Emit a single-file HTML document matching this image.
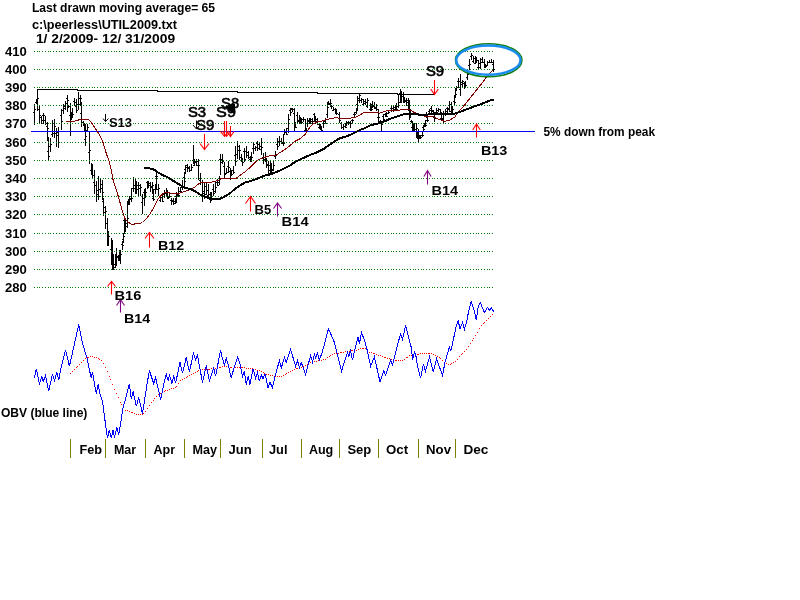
<!DOCTYPE html>
<html><head><meta charset="utf-8"><title>UTIL2009</title>
<style>html,body{margin:0;padding:0;background:#fff;width:800px;height:600px;overflow:hidden}svg{display:block}text{-webkit-font-smoothing:antialiased}svg{will-change:transform}</style>
</head><body>
<svg width="800" height="600" viewBox="0 0 800 600" font-family="Liberation Sans, Arial, sans-serif"><text x="31.9" y="12" font-size="12.5" font-weight="bold" fill="#000" textLength="183.2" lengthAdjust="spacingAndGlyphs">Last drawn moving average= 65</text>
<text x="31.9" y="29" font-size="12" font-weight="bold" fill="#000" textLength="145.2" lengthAdjust="spacingAndGlyphs">c:\peerless\UTIL2009.txt</text>
<text x="35.9" y="42.7" font-size="12" font-weight="bold" fill="#000" textLength="139.2" lengthAdjust="spacingAndGlyphs">1/ 2/2009- 12/ 31/2009</text>
<path d="M34 104h1v21h-1zM33 112h1v1h-1zM35 109h1v1h-1zM36 99h1v5h-1zM35 102h1v1h-1zM37 100h1v1h-1zM37 89h1v22h-1zM36 101h1v1h-1zM38 98h1v1h-1zM39 106h1v18h-1zM38 109h1v1h-1zM40 115h1v1h-1zM41 116h1v8h-1zM40 117h1v1h-1zM42 120h1v1h-1zM43 113h1v11h-1zM42 115h1v1h-1zM44 115h1v1h-1zM45 116h1v9h-1zM44 120h1v1h-1zM46 123h1v1h-1zM47 122h1v19h-1zM46 126h1v1h-1zM48 128h1v1h-1zM48 137h1v23h-1zM47 151h1v1h-1zM49 156h1v1h-1zM50 138h1v14h-1zM49 146h1v1h-1zM51 144h1v1h-1zM52 120h1v17h-1zM51 134h1v1h-1zM53 123h1v1h-1zM54 119h1v19h-1zM53 133h1v1h-1zM55 126h1v1h-1zM56 128h1v19h-1zM55 133h1v1h-1zM57 132h1v1h-1zM58 127h1v21h-1zM57 135h1v1h-1zM59 142h1v1h-1zM61 109h1v21h-1zM60 115h1v1h-1zM62 121h1v1h-1zM63 104h1v10h-1zM62 110h1v1h-1zM64 108h1v1h-1zM65 101h1v9h-1zM64 106h1v1h-1zM66 103h1v1h-1zM67 95h1v17h-1zM66 98h1v1h-1zM68 100h1v1h-1zM68 105h1v3h-1zM67 107h1v1h-1zM69 106h1v1h-1zM70 103h1v33h-1zM69 115h1v1h-1zM71 121h1v1h-1zM71 112h1v8h-1zM70 116h1v1h-1zM72 115h1v1h-1zM72 108h1v10h-1zM71 115h1v1h-1zM73 114h1v1h-1zM74 98h1v8h-1zM73 101h1v1h-1zM75 102h1v1h-1zM76 99h1v14h-1zM75 106h1v1h-1zM77 110h1v1h-1zM78 92h1v18h-1zM77 104h1v1h-1zM79 98h1v1h-1zM80 95h1v11h-1zM79 104h1v1h-1zM81 98h1v1h-1zM81 102h1v25h-1zM80 113h1v1h-1zM82 119h1v1h-1zM83 121h1v5h-1zM82 122h1v1h-1zM84 123h1v1h-1zM84 124h1v7h-1zM83 125h1v1h-1zM85 128h1v1h-1zM85 124h1v22h-1zM84 139h1v1h-1zM86 136h1v1h-1zM87 124h1v8h-1zM86 130h1v1h-1zM88 127h1v1h-1zM89 131h1v33h-1zM88 152h1v1h-1zM90 150h1v1h-1zM91 163h1v12h-1zM90 170h1v1h-1zM92 169h1v1h-1zM92 164h1v14h-1zM91 174h1v1h-1zM93 175h1v1h-1zM94 170h1v24h-1zM93 182h1v1h-1zM95 185h1v1h-1zM96 181h1v21h-1zM95 185h1v1h-1zM97 194h1v1h-1zM98 176h1v24h-1zM97 190h1v1h-1zM99 196h1v1h-1zM100 179h1v14h-1zM99 189h1v1h-1zM101 184h1v1h-1zM102 180h1v20h-1zM101 188h1v1h-1zM103 192h1v1h-1zM103 198h1v18h-1zM102 201h1v1h-1zM104 207h1v1h-1zM105 206h1v23h-1zM104 212h1v1h-1zM106 211h1v1h-1zM107 218h1v28h-1zM106 223h1v1h-1zM108 237h1v1h-1zM108 231h1v15h-1zM107 235h1v1h-1zM109 236h1v1h-1zM111 238h1v27h-1zM110 249h1v1h-1zM112 259h1v1h-1zM112 240h1v30h-1zM111 246h1v1h-1zM113 254h1v1h-1zM113 255h1v15h-1zM112 263h1v1h-1zM114 267h1v1h-1zM115 255h1v13h-1zM114 264h1v1h-1zM116 265h1v1h-1zM116 248h1v18h-1zM115 254h1v1h-1zM117 256h1v1h-1zM118 255h1v6h-1zM117 257h1v1h-1zM119 260h1v1h-1zM119 250h1v10h-1zM118 258h1v1h-1zM120 253h1v1h-1zM120 250h1v14h-1zM119 254h1v1h-1zM121 254h1v1h-1zM122 241h1v9h-1zM121 244h1v1h-1zM123 245h1v1h-1zM123 233h1v10h-1zM122 239h1v1h-1zM124 236h1v1h-1zM124 218h1v16h-1zM123 220h1v1h-1zM125 225h1v1h-1zM125 219h1v13h-1zM124 224h1v1h-1zM126 226h1v1h-1zM127 201h1v27h-1zM126 223h1v1h-1zM128 218h1v1h-1zM128 199h1v6h-1zM127 202h1v1h-1zM129 202h1v1h-1zM129 196h1v9h-1zM128 202h1v1h-1zM130 198h1v1h-1zM131 188h1v14h-1zM130 199h1v1h-1zM132 198h1v1h-1zM133 177h1v15h-1zM132 188h1v1h-1zM134 188h1v1h-1zM135 178h1v16h-1zM134 185h1v1h-1zM136 185h1v1h-1zM136 181h1v13h-1zM135 184h1v1h-1zM137 189h1v1h-1zM138 182h1v14h-1zM137 185h1v1h-1zM139 185h1v1h-1zM140 184h1v12h-1zM139 188h1v1h-1zM141 187h1v1h-1zM142 194h1v20h-1zM141 202h1v1h-1zM143 198h1v1h-1zM144 189h1v17h-1zM143 192h1v1h-1zM145 193h1v1h-1zM145 188h1v10h-1zM144 190h1v1h-1zM146 192h1v1h-1zM147 181h1v8h-1zM146 182h1v1h-1zM148 187h1v1h-1zM148 181h1v7h-1zM147 185h1v1h-1zM149 183h1v1h-1zM150 182h1v10h-1zM149 185h1v1h-1zM151 186h1v1h-1zM152 182h1v12h-1zM151 187h1v1h-1zM153 185h1v1h-1zM153 189h1v12h-1zM152 198h1v1h-1zM154 199h1v1h-1zM155 184h1v10h-1zM154 189h1v1h-1zM156 189h1v1h-1zM156 172h1v18h-1zM155 176h1v1h-1zM157 176h1v1h-1zM158 184h1v12h-1zM157 189h1v1h-1zM159 188h1v1h-1zM160 195h1v7h-1zM159 200h1v1h-1zM161 197h1v1h-1zM162 194h1v8h-1zM161 195h1v1h-1zM163 201h1v1h-1zM164 190h1v8h-1zM163 194h1v1h-1zM165 192h1v1h-1zM166 188h1v9h-1zM165 193h1v1h-1zM167 190h1v1h-1zM167 191h1v8h-1zM166 195h1v1h-1zM168 198h1v1h-1zM169 193h1v5h-1zM168 197h1v1h-1zM170 196h1v1h-1zM171 198h1v7h-1zM170 200h1v1h-1zM172 201h1v1h-1zM173 198h1v7h-1zM172 200h1v1h-1zM174 203h1v1h-1zM175 198h1v6h-1zM174 201h1v1h-1zM176 202h1v1h-1zM176 192h1v10h-1zM175 196h1v1h-1zM177 195h1v1h-1zM178 187h1v10h-1zM177 194h1v1h-1zM179 195h1v1h-1zM180 187h1v6h-1zM179 191h1v1h-1zM181 191h1v1h-1zM182 180h1v10h-1zM181 187h1v1h-1zM183 187h1v1h-1zM184 172h1v17h-1zM183 177h1v1h-1zM185 181h1v1h-1zM185 165h1v9h-1zM184 169h1v1h-1zM186 167h1v1h-1zM187 164h1v8h-1zM186 165h1v1h-1zM188 167h1v1h-1zM189 166h1v6h-1zM188 168h1v1h-1zM190 170h1v1h-1zM191 164h1v7h-1zM190 170h1v1h-1zM192 167h1v1h-1zM193 145h1v19h-1zM192 160h1v1h-1zM194 161h1v1h-1zM194 159h1v7h-1zM193 165h1v1h-1zM195 162h1v1h-1zM196 159h1v7h-1zM195 161h1v1h-1zM197 161h1v1h-1zM198 159h1v21h-1zM197 165h1v1h-1zM199 165h1v1h-1zM200 173h1v12h-1zM199 180h1v1h-1zM201 182h1v1h-1zM202 180h1v22h-1zM201 196h1v1h-1zM203 191h1v1h-1zM204 183h1v16h-1zM203 193h1v1h-1zM205 194h1v1h-1zM206 183h1v12h-1zM205 186h1v1h-1zM207 190h1v1h-1zM208 184h1v14h-1zM207 195h1v1h-1zM209 194h1v1h-1zM210 192h1v11h-1zM209 199h1v1h-1zM211 197h1v1h-1zM211 192h1v9h-1zM210 194h1v1h-1zM212 198h1v1h-1zM213 184h1v12h-1zM212 189h1v1h-1zM214 193h1v1h-1zM215 182h1v11h-1zM214 191h1v1h-1zM216 187h1v1h-1zM217 179h1v7h-1zM216 182h1v1h-1zM218 185h1v1h-1zM219 176h1v9h-1zM218 182h1v1h-1zM220 178h1v1h-1zM220 154h1v21h-1zM219 159h1v1h-1zM221 159h1v1h-1zM222 154h1v10h-1zM221 162h1v1h-1zM223 161h1v1h-1zM224 162h1v16h-1zM223 166h1v1h-1zM225 174h1v1h-1zM226 168h1v6h-1zM225 173h1v1h-1zM227 172h1v1h-1zM228 161h1v12h-1zM227 166h1v1h-1zM229 167h1v1h-1zM230 168h1v12h-1zM229 171h1v1h-1zM231 170h1v1h-1zM231 171h1v5h-1zM230 175h1v1h-1zM232 174h1v1h-1zM233 166h1v8h-1zM232 170h1v1h-1zM234 172h1v1h-1zM235 146h1v20h-1zM234 155h1v1h-1zM236 161h1v1h-1zM237 141h1v18h-1zM236 154h1v1h-1zM238 146h1v1h-1zM239 145h1v15h-1zM238 150h1v1h-1zM240 150h1v1h-1zM241 154h1v8h-1zM240 157h1v1h-1zM242 158h1v1h-1zM242 158h1v8h-1zM241 161h1v1h-1zM243 162h1v1h-1zM244 148h1v14h-1zM243 151h1v1h-1zM245 159h1v1h-1zM246 146h1v12h-1zM245 151h1v1h-1zM247 152h1v1h-1zM248 151h1v8h-1zM247 155h1v1h-1zM249 157h1v1h-1zM250 156h1v6h-1zM249 159h1v1h-1zM251 161h1v1h-1zM251 152h1v9h-1zM250 157h1v1h-1zM252 157h1v1h-1zM253 142h1v12h-1zM252 148h1v1h-1zM254 144h1v1h-1zM255 146h1v5h-1zM254 148h1v1h-1zM256 147h1v1h-1zM257 141h1v10h-1zM256 143h1v1h-1zM258 148h1v1h-1zM259 142h1v8h-1zM258 144h1v1h-1zM260 146h1v1h-1zM261 138h1v17h-1zM260 149h1v1h-1zM262 147h1v1h-1zM263 153h1v11h-1zM262 157h1v1h-1zM264 159h1v1h-1zM265 152h1v9h-1zM264 157h1v1h-1zM266 158h1v1h-1zM266 159h1v9h-1zM265 161h1v1h-1zM267 164h1v1h-1zM268 161h1v13h-1zM267 165h1v1h-1zM269 165h1v1h-1zM270 161h1v13h-1zM269 170h1v1h-1zM271 168h1v1h-1zM271 163h1v10h-1zM270 168h1v1h-1zM272 170h1v1h-1zM273 160h1v11h-1zM272 169h1v1h-1zM274 165h1v1h-1zM275 151h1v8h-1zM274 156h1v1h-1zM276 155h1v1h-1zM277 138h1v12h-1zM276 144h1v1h-1zM278 146h1v1h-1zM279 136h1v10h-1zM278 141h1v1h-1zM280 141h1v1h-1zM281 138h1v6h-1zM280 141h1v1h-1zM282 143h1v1h-1zM283 135h1v11h-1zM282 142h1v1h-1zM284 143h1v1h-1zM284 129h1v6h-1zM283 134h1v1h-1zM285 131h1v1h-1zM286 128h1v7h-1zM285 132h1v1h-1zM287 134h1v1h-1zM288 114h1v19h-1zM287 128h1v1h-1zM289 119h1v1h-1zM290 108h1v8h-1zM289 110h1v1h-1zM291 112h1v1h-1zM291 108h1v1h-1zM292 108h1v4h-1zM291 109h1v1h-1zM293 109h1v1h-1zM294 108h1v24h-1zM293 113h1v1h-1zM295 123h1v1h-1zM295 122h1v6h-1zM294 126h1v1h-1zM296 127h1v1h-1zM297 112h1v12h-1zM296 115h1v1h-1zM298 120h1v1h-1zM299 115h1v9h-1zM298 121h1v1h-1zM300 117h1v1h-1zM300 118h1v6h-1zM299 123h1v1h-1zM301 123h1v1h-1zM301 118h1v5h-1zM300 120h1v1h-1zM302 122h1v1h-1zM303 117h1v5h-1zM302 119h1v1h-1zM304 119h1v1h-1zM305 119h1v13h-1zM304 130h1v1h-1zM306 129h1v1h-1zM306 128h1v5h-1zM305 129h1v1h-1zM307 130h1v1h-1zM307 118h1v9h-1zM306 123h1v1h-1zM308 121h1v1h-1zM309 118h1v6h-1zM308 120h1v1h-1zM310 120h1v1h-1zM310 118h1v6h-1zM309 122h1v1h-1zM311 119h1v1h-1zM312 118h1v6h-1zM311 121h1v1h-1zM313 121h1v1h-1zM314 113h1v9h-1zM313 114h1v1h-1zM315 116h1v1h-1zM315 117h1v7h-1zM314 121h1v1h-1zM316 121h1v1h-1zM317 118h1v7h-1zM316 119h1v1h-1zM318 124h1v1h-1zM319 123h1v6h-1zM318 127h1v1h-1zM320 128h1v1h-1zM320 124h1v6h-1zM319 125h1v1h-1zM321 126h1v1h-1zM321 127h1v5h-1zM320 128h1v1h-1zM322 130h1v1h-1zM323 121h1v7h-1zM322 123h1v1h-1zM324 123h1v1h-1zM325 118h1v6h-1zM324 121h1v1h-1zM326 123h1v1h-1zM327 102h1v16h-1zM326 114h1v1h-1zM328 107h1v1h-1zM328 101h1v4h-1zM327 102h1v1h-1zM329 104h1v1h-1zM330 99h1v7h-1zM329 103h1v1h-1zM331 103h1v1h-1zM331 105h1v4h-1zM330 106h1v1h-1zM332 106h1v1h-1zM333 107h1v4h-1zM332 110h1v1h-1zM334 109h1v1h-1zM335 108h1v6h-1zM334 109h1v1h-1zM336 113h1v1h-1zM336 109h1v6h-1zM335 113h1v1h-1zM337 113h1v1h-1zM339 112h1v11h-1zM338 114h1v1h-1zM340 120h1v1h-1zM341 122h1v7h-1zM340 123h1v1h-1zM342 127h1v1h-1zM343 124h1v6h-1zM342 127h1v1h-1zM344 126h1v1h-1zM345 124h1v4h-1zM344 126h1v1h-1zM346 127h1v1h-1zM346 121h1v5h-1zM345 123h1v1h-1zM347 122h1v1h-1zM348 121h1v4h-1zM347 123h1v1h-1zM349 122h1v1h-1zM350 121h1v7h-1zM349 123h1v1h-1zM351 123h1v1h-1zM352 119h1v5h-1zM351 120h1v1h-1zM353 120h1v1h-1zM354 112h1v6h-1zM353 114h1v1h-1zM355 114h1v1h-1zM356 108h1v6h-1zM355 112h1v1h-1zM357 110h1v1h-1zM357 96h1v15h-1zM356 104h1v1h-1zM358 100h1v1h-1zM359 94h1v9h-1zM358 98h1v1h-1zM360 95h1v1h-1zM361 98h1v5h-1zM360 100h1v1h-1zM362 99h1v1h-1zM363 99h1v7h-1zM362 104h1v1h-1zM364 103h1v1h-1zM365 99h1v6h-1zM364 101h1v1h-1zM366 102h1v1h-1zM367 98h1v10h-1zM366 106h1v1h-1zM368 100h1v1h-1zM370 103h1v8h-1zM369 109h1v1h-1zM371 107h1v1h-1zM371 105h1v6h-1zM370 108h1v1h-1zM372 109h1v1h-1zM372 101h1v7h-1zM371 104h1v1h-1zM373 105h1v1h-1zM374 102h1v7h-1zM373 106h1v1h-1zM375 108h1v1h-1zM376 104h1v7h-1zM375 107h1v1h-1zM377 109h1v1h-1zM378 109h1v13h-1zM377 117h1v1h-1zM379 117h1v1h-1zM380 120h1v3h-1zM379 121h1v1h-1zM381 121h1v1h-1zM381 121h1v11h-1zM380 123h1v1h-1zM382 124h1v1h-1zM383 114h1v8h-1zM382 116h1v1h-1zM384 119h1v1h-1zM385 113h1v4h-1zM384 114h1v1h-1zM386 114h1v1h-1zM386 112h1v5h-1zM385 113h1v1h-1zM387 116h1v1h-1zM388 110h1v4h-1zM387 113h1v1h-1zM389 112h1v1h-1zM391 106h1v6h-1zM390 108h1v1h-1zM392 108h1v1h-1zM393 106h1v6h-1zM392 108h1v1h-1zM394 109h1v1h-1zM395 105h1v6h-1zM394 107h1v1h-1zM396 108h1v1h-1zM396 103h1v7h-1zM395 105h1v1h-1zM397 109h1v1h-1zM398 95h1v13h-1zM397 106h1v1h-1zM399 102h1v1h-1zM400 89h1v14h-1zM399 93h1v1h-1zM401 101h1v1h-1zM401 91h1v12h-1zM400 95h1v1h-1zM402 96h1v1h-1zM403 92h1v11h-1zM402 94h1v1h-1zM404 97h1v1h-1zM404 98h1v5h-1zM403 100h1v1h-1zM405 101h1v1h-1zM406 98h1v8h-1zM405 100h1v1h-1zM407 102h1v1h-1zM408 98h1v13h-1zM407 100h1v1h-1zM409 102h1v1h-1zM409 100h1v20h-1zM408 104h1v1h-1zM410 109h1v1h-1zM410 109h1v9h-1zM409 111h1v1h-1zM411 110h1v1h-1zM411 120h1v3h-1zM410 121h1v1h-1zM412 121h1v1h-1zM412 122h1v9h-1zM411 127h1v1h-1zM413 127h1v1h-1zM413 123h1v8h-1zM412 128h1v1h-1zM414 128h1v1h-1zM414 123h1v8h-1zM413 128h1v1h-1zM415 129h1v1h-1zM416 123h1v14h-1zM415 129h1v1h-1zM417 128h1v1h-1zM417 131h1v7h-1zM416 137h1v1h-1zM418 133h1v1h-1zM418 129h1v13h-1zM417 138h1v1h-1zM419 137h1v1h-1zM419 135h1v4h-1zM418 136h1v1h-1zM420 138h1v1h-1zM420 135h1v3h-1zM419 137h1v1h-1zM421 137h1v1h-1zM422 131h1v6h-1zM421 135h1v1h-1zM423 135h1v1h-1zM423 125h1v7h-1zM422 127h1v1h-1zM424 129h1v1h-1zM424 123h1v4h-1zM423 125h1v1h-1zM425 126h1v1h-1zM425 120h1v7h-1zM424 125h1v1h-1zM426 125h1v1h-1zM426 112h1v6h-1zM425 115h1v1h-1zM427 117h1v1h-1zM427 116h1v6h-1zM426 120h1v1h-1zM428 120h1v1h-1zM429 109h1v6h-1zM428 111h1v1h-1zM430 110h1v1h-1zM431 106h1v9h-1zM430 108h1v1h-1zM432 110h1v1h-1zM433 110h1v5h-1zM432 111h1v1h-1zM434 114h1v1h-1zM434 112h1v10h-1zM433 117h1v1h-1zM435 118h1v1h-1zM436 108h1v7h-1zM435 112h1v1h-1zM437 112h1v1h-1zM438 108h1v4h-1zM437 110h1v1h-1zM439 109h1v1h-1zM440 109h1v5h-1zM439 113h1v1h-1zM441 112h1v1h-1zM441 115h1v5h-1zM440 118h1v1h-1zM442 118h1v1h-1zM443 111h1v13h-1zM442 119h1v1h-1zM444 114h1v1h-1zM445 109h1v7h-1zM444 114h1v1h-1zM446 111h1v1h-1zM447 107h1v7h-1zM446 108h1v1h-1zM448 109h1v1h-1zM449 101h1v11h-1zM448 108h1v1h-1zM450 104h1v1h-1zM451 102h1v13h-1zM450 111h1v1h-1zM452 113h1v1h-1zM452 106h1v8h-1zM451 110h1v1h-1zM453 109h1v1h-1zM454 96h1v10h-1zM453 101h1v1h-1zM455 102h1v1h-1zM455 88h1v10h-1zM454 95h1v1h-1zM456 94h1v1h-1zM456 86h1v5h-1zM455 89h1v1h-1zM457 87h1v1h-1zM458 78h1v10h-1zM457 81h1v1h-1zM459 81h1v1h-1zM460 74h1v22h-1zM459 89h1v1h-1zM461 82h1v1h-1zM462 80h1v7h-1zM461 84h1v1h-1zM463 81h1v1h-1zM464 82h1v7h-1zM463 83h1v1h-1zM465 84h1v1h-1zM465 81h1v6h-1zM464 85h1v1h-1zM466 85h1v1h-1zM467 71h1v9h-1zM466 77h1v1h-1zM468 74h1v1h-1zM469 59h1v11h-1zM468 65h1v1h-1zM470 64h1v1h-1zM471 53h1v7h-1zM470 56h1v1h-1zM472 55h1v1h-1zM473 56h1v7h-1zM472 61h1v1h-1zM474 58h1v1h-1zM475 56h1v8h-1zM474 63h1v1h-1zM476 62h1v1h-1zM476 57h1v6h-1zM475 58h1v1h-1zM477 60h1v1h-1zM478 60h1v9h-1zM477 67h1v1h-1zM479 67h1v1h-1zM480 58h1v11h-1zM479 63h1v1h-1zM481 62h1v1h-1zM482 57h1v6h-1zM481 59h1v1h-1zM483 62h1v1h-1zM484 59h1v9h-1zM483 62h1v1h-1zM485 64h1v1h-1zM485 64h1v4h-1zM484 65h1v1h-1zM486 66h1v1h-1zM487 61h1v5h-1zM486 65h1v1h-1zM488 62h1v1h-1zM489 60h1v3h-1zM488 62h1v1h-1zM490 62h1v1h-1zM491 59h1v4h-1zM490 62h1v1h-1zM492 62h1v1h-1zM493 60h1v12h-1zM492 64h1v1h-1zM494 69h1v1h-1z" fill="#000"/>
<path d="M34 51h1v1h-1zM37 51h1v1h-1zM39 51h1v1h-1zM42 51h1v1h-1zM45 51h1v1h-1zM48 51h1v1h-1zM50 51h1v1h-1zM53 51h1v1h-1zM56 51h1v1h-1zM59 51h1v1h-1zM61 51h1v1h-1zM64 51h1v1h-1zM67 51h1v1h-1zM70 51h1v1h-1zM72 51h1v1h-1zM75 51h1v1h-1zM78 51h1v1h-1zM81 51h1v1h-1zM83 51h1v1h-1zM86 51h1v1h-1zM89 51h1v1h-1zM92 51h1v1h-1zM94 51h1v1h-1zM97 51h1v1h-1zM100 51h1v1h-1zM103 51h1v1h-1zM105 51h1v1h-1zM108 51h1v1h-1zM111 51h1v1h-1zM114 51h1v1h-1zM116 51h1v1h-1zM119 51h1v1h-1zM122 51h1v1h-1zM125 51h1v1h-1zM127 51h1v1h-1zM130 51h1v1h-1zM133 51h1v1h-1zM135 51h1v1h-1zM138 51h1v1h-1zM141 51h1v1h-1zM144 51h1v1h-1zM146 51h1v1h-1zM149 51h1v1h-1zM152 51h1v1h-1zM155 51h1v1h-1zM157 51h1v1h-1zM160 51h1v1h-1zM163 51h1v1h-1zM166 51h1v1h-1zM168 51h1v1h-1zM171 51h1v1h-1zM174 51h1v1h-1zM177 51h1v1h-1zM179 51h1v1h-1zM182 51h1v1h-1zM185 51h1v1h-1zM188 51h1v1h-1zM190 51h1v1h-1zM193 51h1v1h-1zM196 51h1v1h-1zM199 51h1v1h-1zM201 51h1v1h-1zM204 51h1v1h-1zM207 51h1v1h-1zM210 51h1v1h-1zM212 51h1v1h-1zM215 51h1v1h-1zM218 51h1v1h-1zM221 51h1v1h-1zM223 51h1v1h-1zM226 51h1v1h-1zM229 51h1v1h-1zM231 51h1v1h-1zM234 51h1v1h-1zM237 51h1v1h-1zM240 51h1v1h-1zM242 51h1v1h-1zM245 51h1v1h-1zM248 51h1v1h-1zM251 51h1v1h-1zM253 51h1v1h-1zM256 51h1v1h-1zM259 51h1v1h-1zM262 51h1v1h-1zM264 51h1v1h-1zM267 51h1v1h-1zM270 51h1v1h-1zM273 51h1v1h-1zM275 51h1v1h-1zM278 51h1v1h-1zM281 51h1v1h-1zM284 51h1v1h-1zM286 51h1v1h-1zM289 51h1v1h-1zM292 51h1v1h-1zM295 51h1v1h-1zM297 51h1v1h-1zM300 51h1v1h-1zM303 51h1v1h-1zM306 51h1v1h-1zM308 51h1v1h-1zM311 51h1v1h-1zM314 51h1v1h-1zM317 51h1v1h-1zM319 51h1v1h-1zM322 51h1v1h-1zM325 51h1v1h-1zM327 51h1v1h-1zM330 51h1v1h-1zM333 51h1v1h-1zM336 51h1v1h-1zM338 51h1v1h-1zM341 51h1v1h-1zM344 51h1v1h-1zM347 51h1v1h-1zM349 51h1v1h-1zM352 51h1v1h-1zM355 51h1v1h-1zM358 51h1v1h-1zM360 51h1v1h-1zM363 51h1v1h-1zM366 51h1v1h-1zM369 51h1v1h-1zM371 51h1v1h-1zM374 51h1v1h-1zM377 51h1v1h-1zM380 51h1v1h-1zM382 51h1v1h-1zM385 51h1v1h-1zM388 51h1v1h-1zM391 51h1v1h-1zM393 51h1v1h-1zM396 51h1v1h-1zM399 51h1v1h-1zM402 51h1v1h-1zM404 51h1v1h-1zM407 51h1v1h-1zM410 51h1v1h-1zM413 51h1v1h-1zM415 51h1v1h-1zM418 51h1v1h-1zM421 51h1v1h-1zM423 51h1v1h-1zM426 51h1v1h-1zM429 51h1v1h-1zM432 51h1v1h-1zM434 51h1v1h-1zM437 51h1v1h-1zM440 51h1v1h-1zM443 51h1v1h-1zM445 51h1v1h-1zM448 51h1v1h-1zM451 51h1v1h-1zM454 51h1v1h-1zM456 51h1v1h-1zM459 51h1v1h-1zM462 51h1v1h-1zM465 51h1v1h-1zM467 51h1v1h-1zM470 51h1v1h-1zM473 51h1v1h-1zM476 51h1v1h-1zM478 51h1v1h-1zM481 51h1v1h-1zM484 51h1v1h-1zM487 51h1v1h-1zM489 51h1v1h-1zM492 51h1v1h-1zM34 69h1v1h-1zM37 69h1v1h-1zM39 69h1v1h-1zM42 69h1v1h-1zM45 69h1v1h-1zM48 69h1v1h-1zM50 69h1v1h-1zM53 69h1v1h-1zM56 69h1v1h-1zM59 69h1v1h-1zM61 69h1v1h-1zM64 69h1v1h-1zM67 69h1v1h-1zM70 69h1v1h-1zM72 69h1v1h-1zM75 69h1v1h-1zM78 69h1v1h-1zM81 69h1v1h-1zM83 69h1v1h-1zM86 69h1v1h-1zM89 69h1v1h-1zM92 69h1v1h-1zM94 69h1v1h-1zM97 69h1v1h-1zM100 69h1v1h-1zM103 69h1v1h-1zM105 69h1v1h-1zM108 69h1v1h-1zM111 69h1v1h-1zM114 69h1v1h-1zM116 69h1v1h-1zM119 69h1v1h-1zM122 69h1v1h-1zM125 69h1v1h-1zM127 69h1v1h-1zM130 69h1v1h-1zM133 69h1v1h-1zM135 69h1v1h-1zM138 69h1v1h-1zM141 69h1v1h-1zM144 69h1v1h-1zM146 69h1v1h-1zM149 69h1v1h-1zM152 69h1v1h-1zM155 69h1v1h-1zM157 69h1v1h-1zM160 69h1v1h-1zM163 69h1v1h-1zM166 69h1v1h-1zM168 69h1v1h-1zM171 69h1v1h-1zM174 69h1v1h-1zM177 69h1v1h-1zM179 69h1v1h-1zM182 69h1v1h-1zM185 69h1v1h-1zM188 69h1v1h-1zM190 69h1v1h-1zM193 69h1v1h-1zM196 69h1v1h-1zM199 69h1v1h-1zM201 69h1v1h-1zM204 69h1v1h-1zM207 69h1v1h-1zM210 69h1v1h-1zM212 69h1v1h-1zM215 69h1v1h-1zM218 69h1v1h-1zM221 69h1v1h-1zM223 69h1v1h-1zM226 69h1v1h-1zM229 69h1v1h-1zM231 69h1v1h-1zM234 69h1v1h-1zM237 69h1v1h-1zM240 69h1v1h-1zM242 69h1v1h-1zM245 69h1v1h-1zM248 69h1v1h-1zM251 69h1v1h-1zM253 69h1v1h-1zM256 69h1v1h-1zM259 69h1v1h-1zM262 69h1v1h-1zM264 69h1v1h-1zM267 69h1v1h-1zM270 69h1v1h-1zM273 69h1v1h-1zM275 69h1v1h-1zM278 69h1v1h-1zM281 69h1v1h-1zM284 69h1v1h-1zM286 69h1v1h-1zM289 69h1v1h-1zM292 69h1v1h-1zM295 69h1v1h-1zM297 69h1v1h-1zM300 69h1v1h-1zM303 69h1v1h-1zM306 69h1v1h-1zM308 69h1v1h-1zM311 69h1v1h-1zM314 69h1v1h-1zM317 69h1v1h-1zM319 69h1v1h-1zM322 69h1v1h-1zM325 69h1v1h-1zM327 69h1v1h-1zM330 69h1v1h-1zM333 69h1v1h-1zM336 69h1v1h-1zM338 69h1v1h-1zM341 69h1v1h-1zM344 69h1v1h-1zM347 69h1v1h-1zM349 69h1v1h-1zM352 69h1v1h-1zM355 69h1v1h-1zM358 69h1v1h-1zM360 69h1v1h-1zM363 69h1v1h-1zM366 69h1v1h-1zM369 69h1v1h-1zM371 69h1v1h-1zM374 69h1v1h-1zM377 69h1v1h-1zM380 69h1v1h-1zM382 69h1v1h-1zM385 69h1v1h-1zM388 69h1v1h-1zM391 69h1v1h-1zM393 69h1v1h-1zM396 69h1v1h-1zM399 69h1v1h-1zM402 69h1v1h-1zM404 69h1v1h-1zM407 69h1v1h-1zM410 69h1v1h-1zM413 69h1v1h-1zM415 69h1v1h-1zM418 69h1v1h-1zM421 69h1v1h-1zM423 69h1v1h-1zM426 69h1v1h-1zM429 69h1v1h-1zM432 69h1v1h-1zM434 69h1v1h-1zM437 69h1v1h-1zM440 69h1v1h-1zM443 69h1v1h-1zM445 69h1v1h-1zM448 69h1v1h-1zM451 69h1v1h-1zM454 69h1v1h-1zM456 69h1v1h-1zM459 69h1v1h-1zM462 69h1v1h-1zM465 69h1v1h-1zM467 69h1v1h-1zM470 69h1v1h-1zM473 69h1v1h-1zM476 69h1v1h-1zM478 69h1v1h-1zM481 69h1v1h-1zM484 69h1v1h-1zM487 69h1v1h-1zM489 69h1v1h-1zM492 69h1v1h-1zM34 87h1v1h-1zM37 87h1v1h-1zM39 87h1v1h-1zM42 87h1v1h-1zM45 87h1v1h-1zM48 87h1v1h-1zM50 87h1v1h-1zM53 87h1v1h-1zM56 87h1v1h-1zM59 87h1v1h-1zM61 87h1v1h-1zM64 87h1v1h-1zM67 87h1v1h-1zM70 87h1v1h-1zM72 87h1v1h-1zM75 87h1v1h-1zM78 87h1v1h-1zM81 87h1v1h-1zM83 87h1v1h-1zM86 87h1v1h-1zM89 87h1v1h-1zM92 87h1v1h-1zM94 87h1v1h-1zM97 87h1v1h-1zM100 87h1v1h-1zM103 87h1v1h-1zM105 87h1v1h-1zM108 87h1v1h-1zM111 87h1v1h-1zM114 87h1v1h-1zM116 87h1v1h-1zM119 87h1v1h-1zM122 87h1v1h-1zM125 87h1v1h-1zM127 87h1v1h-1zM130 87h1v1h-1zM133 87h1v1h-1zM135 87h1v1h-1zM138 87h1v1h-1zM141 87h1v1h-1zM144 87h1v1h-1zM146 87h1v1h-1zM149 87h1v1h-1zM152 87h1v1h-1zM155 87h1v1h-1zM157 87h1v1h-1zM160 87h1v1h-1zM163 87h1v1h-1zM166 87h1v1h-1zM168 87h1v1h-1zM171 87h1v1h-1zM174 87h1v1h-1zM177 87h1v1h-1zM179 87h1v1h-1zM182 87h1v1h-1zM185 87h1v1h-1zM188 87h1v1h-1zM190 87h1v1h-1zM193 87h1v1h-1zM196 87h1v1h-1zM199 87h1v1h-1zM201 87h1v1h-1zM204 87h1v1h-1zM207 87h1v1h-1zM210 87h1v1h-1zM212 87h1v1h-1zM215 87h1v1h-1zM218 87h1v1h-1zM221 87h1v1h-1zM223 87h1v1h-1zM226 87h1v1h-1zM229 87h1v1h-1zM231 87h1v1h-1zM234 87h1v1h-1zM237 87h1v1h-1zM240 87h1v1h-1zM242 87h1v1h-1zM245 87h1v1h-1zM248 87h1v1h-1zM251 87h1v1h-1zM253 87h1v1h-1zM256 87h1v1h-1zM259 87h1v1h-1zM262 87h1v1h-1zM264 87h1v1h-1zM267 87h1v1h-1zM270 87h1v1h-1zM273 87h1v1h-1zM275 87h1v1h-1zM278 87h1v1h-1zM281 87h1v1h-1zM284 87h1v1h-1zM286 87h1v1h-1zM289 87h1v1h-1zM292 87h1v1h-1zM295 87h1v1h-1zM297 87h1v1h-1zM300 87h1v1h-1zM303 87h1v1h-1zM306 87h1v1h-1zM308 87h1v1h-1zM311 87h1v1h-1zM314 87h1v1h-1zM317 87h1v1h-1zM319 87h1v1h-1zM322 87h1v1h-1zM325 87h1v1h-1zM327 87h1v1h-1zM330 87h1v1h-1zM333 87h1v1h-1zM336 87h1v1h-1zM338 87h1v1h-1zM341 87h1v1h-1zM344 87h1v1h-1zM347 87h1v1h-1zM349 87h1v1h-1zM352 87h1v1h-1zM355 87h1v1h-1zM358 87h1v1h-1zM360 87h1v1h-1zM363 87h1v1h-1zM366 87h1v1h-1zM369 87h1v1h-1zM371 87h1v1h-1zM374 87h1v1h-1zM377 87h1v1h-1zM380 87h1v1h-1zM382 87h1v1h-1zM385 87h1v1h-1zM388 87h1v1h-1zM391 87h1v1h-1zM393 87h1v1h-1zM396 87h1v1h-1zM399 87h1v1h-1zM402 87h1v1h-1zM404 87h1v1h-1zM407 87h1v1h-1zM410 87h1v1h-1zM413 87h1v1h-1zM415 87h1v1h-1zM418 87h1v1h-1zM421 87h1v1h-1zM423 87h1v1h-1zM426 87h1v1h-1zM429 87h1v1h-1zM432 87h1v1h-1zM434 87h1v1h-1zM437 87h1v1h-1zM440 87h1v1h-1zM443 87h1v1h-1zM445 87h1v1h-1zM448 87h1v1h-1zM451 87h1v1h-1zM454 87h1v1h-1zM456 87h1v1h-1zM459 87h1v1h-1zM462 87h1v1h-1zM465 87h1v1h-1zM467 87h1v1h-1zM470 87h1v1h-1zM473 87h1v1h-1zM476 87h1v1h-1zM478 87h1v1h-1zM481 87h1v1h-1zM484 87h1v1h-1zM487 87h1v1h-1zM489 87h1v1h-1zM492 87h1v1h-1zM34 105h1v1h-1zM37 105h1v1h-1zM39 105h1v1h-1zM42 105h1v1h-1zM45 105h1v1h-1zM48 105h1v1h-1zM50 105h1v1h-1zM53 105h1v1h-1zM56 105h1v1h-1zM59 105h1v1h-1zM61 105h1v1h-1zM64 105h1v1h-1zM67 105h1v1h-1zM70 105h1v1h-1zM72 105h1v1h-1zM75 105h1v1h-1zM78 105h1v1h-1zM81 105h1v1h-1zM83 105h1v1h-1zM86 105h1v1h-1zM89 105h1v1h-1zM92 105h1v1h-1zM94 105h1v1h-1zM97 105h1v1h-1zM100 105h1v1h-1zM103 105h1v1h-1zM105 105h1v1h-1zM108 105h1v1h-1zM111 105h1v1h-1zM114 105h1v1h-1zM116 105h1v1h-1zM119 105h1v1h-1zM122 105h1v1h-1zM125 105h1v1h-1zM127 105h1v1h-1zM130 105h1v1h-1zM133 105h1v1h-1zM135 105h1v1h-1zM138 105h1v1h-1zM141 105h1v1h-1zM144 105h1v1h-1zM146 105h1v1h-1zM149 105h1v1h-1zM152 105h1v1h-1zM155 105h1v1h-1zM157 105h1v1h-1zM160 105h1v1h-1zM163 105h1v1h-1zM166 105h1v1h-1zM168 105h1v1h-1zM171 105h1v1h-1zM174 105h1v1h-1zM177 105h1v1h-1zM179 105h1v1h-1zM182 105h1v1h-1zM185 105h1v1h-1zM188 105h1v1h-1zM190 105h1v1h-1zM193 105h1v1h-1zM196 105h1v1h-1zM199 105h1v1h-1zM201 105h1v1h-1zM204 105h1v1h-1zM207 105h1v1h-1zM210 105h1v1h-1zM212 105h1v1h-1zM215 105h1v1h-1zM218 105h1v1h-1zM221 105h1v1h-1zM223 105h1v1h-1zM226 105h1v1h-1zM229 105h1v1h-1zM231 105h1v1h-1zM234 105h1v1h-1zM237 105h1v1h-1zM240 105h1v1h-1zM242 105h1v1h-1zM245 105h1v1h-1zM248 105h1v1h-1zM251 105h1v1h-1zM253 105h1v1h-1zM256 105h1v1h-1zM259 105h1v1h-1zM262 105h1v1h-1zM264 105h1v1h-1zM267 105h1v1h-1zM270 105h1v1h-1zM273 105h1v1h-1zM275 105h1v1h-1zM278 105h1v1h-1zM281 105h1v1h-1zM284 105h1v1h-1zM286 105h1v1h-1zM289 105h1v1h-1zM292 105h1v1h-1zM295 105h1v1h-1zM297 105h1v1h-1zM300 105h1v1h-1zM303 105h1v1h-1zM306 105h1v1h-1zM308 105h1v1h-1zM311 105h1v1h-1zM314 105h1v1h-1zM317 105h1v1h-1zM319 105h1v1h-1zM322 105h1v1h-1zM325 105h1v1h-1zM327 105h1v1h-1zM330 105h1v1h-1zM333 105h1v1h-1zM336 105h1v1h-1zM338 105h1v1h-1zM341 105h1v1h-1zM344 105h1v1h-1zM347 105h1v1h-1zM349 105h1v1h-1zM352 105h1v1h-1zM355 105h1v1h-1zM358 105h1v1h-1zM360 105h1v1h-1zM363 105h1v1h-1zM366 105h1v1h-1zM369 105h1v1h-1zM371 105h1v1h-1zM374 105h1v1h-1zM377 105h1v1h-1zM380 105h1v1h-1zM382 105h1v1h-1zM385 105h1v1h-1zM388 105h1v1h-1zM391 105h1v1h-1zM393 105h1v1h-1zM396 105h1v1h-1zM399 105h1v1h-1zM402 105h1v1h-1zM404 105h1v1h-1zM407 105h1v1h-1zM410 105h1v1h-1zM413 105h1v1h-1zM415 105h1v1h-1zM418 105h1v1h-1zM421 105h1v1h-1zM423 105h1v1h-1zM426 105h1v1h-1zM429 105h1v1h-1zM432 105h1v1h-1zM434 105h1v1h-1zM437 105h1v1h-1zM440 105h1v1h-1zM443 105h1v1h-1zM445 105h1v1h-1zM448 105h1v1h-1zM451 105h1v1h-1zM454 105h1v1h-1zM456 105h1v1h-1zM459 105h1v1h-1zM462 105h1v1h-1zM465 105h1v1h-1zM467 105h1v1h-1zM470 105h1v1h-1zM473 105h1v1h-1zM476 105h1v1h-1zM478 105h1v1h-1zM481 105h1v1h-1zM484 105h1v1h-1zM487 105h1v1h-1zM489 105h1v1h-1zM492 105h1v1h-1zM34 123h1v1h-1zM37 123h1v1h-1zM39 123h1v1h-1zM42 123h1v1h-1zM45 123h1v1h-1zM48 123h1v1h-1zM50 123h1v1h-1zM53 123h1v1h-1zM56 123h1v1h-1zM59 123h1v1h-1zM61 123h1v1h-1zM64 123h1v1h-1zM67 123h1v1h-1zM70 123h1v1h-1zM72 123h1v1h-1zM75 123h1v1h-1zM78 123h1v1h-1zM81 123h1v1h-1zM83 123h1v1h-1zM86 123h1v1h-1zM89 123h1v1h-1zM92 123h1v1h-1zM94 123h1v1h-1zM97 123h1v1h-1zM100 123h1v1h-1zM103 123h1v1h-1zM105 123h1v1h-1zM108 123h1v1h-1zM111 123h1v1h-1zM114 123h1v1h-1zM116 123h1v1h-1zM119 123h1v1h-1zM122 123h1v1h-1zM125 123h1v1h-1zM127 123h1v1h-1zM130 123h1v1h-1zM133 123h1v1h-1zM135 123h1v1h-1zM138 123h1v1h-1zM141 123h1v1h-1zM144 123h1v1h-1zM146 123h1v1h-1zM149 123h1v1h-1zM152 123h1v1h-1zM155 123h1v1h-1zM157 123h1v1h-1zM160 123h1v1h-1zM163 123h1v1h-1zM166 123h1v1h-1zM168 123h1v1h-1zM171 123h1v1h-1zM174 123h1v1h-1zM177 123h1v1h-1zM179 123h1v1h-1zM182 123h1v1h-1zM185 123h1v1h-1zM188 123h1v1h-1zM190 123h1v1h-1zM193 123h1v1h-1zM196 123h1v1h-1zM199 123h1v1h-1zM201 123h1v1h-1zM204 123h1v1h-1zM207 123h1v1h-1zM210 123h1v1h-1zM212 123h1v1h-1zM215 123h1v1h-1zM218 123h1v1h-1zM221 123h1v1h-1zM223 123h1v1h-1zM226 123h1v1h-1zM229 123h1v1h-1zM231 123h1v1h-1zM234 123h1v1h-1zM237 123h1v1h-1zM240 123h1v1h-1zM242 123h1v1h-1zM245 123h1v1h-1zM248 123h1v1h-1zM251 123h1v1h-1zM253 123h1v1h-1zM256 123h1v1h-1zM259 123h1v1h-1zM262 123h1v1h-1zM264 123h1v1h-1zM267 123h1v1h-1zM270 123h1v1h-1zM273 123h1v1h-1zM275 123h1v1h-1zM278 123h1v1h-1zM281 123h1v1h-1zM284 123h1v1h-1zM286 123h1v1h-1zM289 123h1v1h-1zM292 123h1v1h-1zM295 123h1v1h-1zM297 123h1v1h-1zM300 123h1v1h-1zM303 123h1v1h-1zM306 123h1v1h-1zM308 123h1v1h-1zM311 123h1v1h-1zM314 123h1v1h-1zM317 123h1v1h-1zM319 123h1v1h-1zM322 123h1v1h-1zM325 123h1v1h-1zM327 123h1v1h-1zM330 123h1v1h-1zM333 123h1v1h-1zM336 123h1v1h-1zM338 123h1v1h-1zM341 123h1v1h-1zM344 123h1v1h-1zM347 123h1v1h-1zM349 123h1v1h-1zM352 123h1v1h-1zM355 123h1v1h-1zM358 123h1v1h-1zM360 123h1v1h-1zM363 123h1v1h-1zM366 123h1v1h-1zM369 123h1v1h-1zM371 123h1v1h-1zM374 123h1v1h-1zM377 123h1v1h-1zM380 123h1v1h-1zM382 123h1v1h-1zM385 123h1v1h-1zM388 123h1v1h-1zM391 123h1v1h-1zM393 123h1v1h-1zM396 123h1v1h-1zM399 123h1v1h-1zM402 123h1v1h-1zM404 123h1v1h-1zM407 123h1v1h-1zM410 123h1v1h-1zM413 123h1v1h-1zM415 123h1v1h-1zM418 123h1v1h-1zM421 123h1v1h-1zM423 123h1v1h-1zM426 123h1v1h-1zM429 123h1v1h-1zM432 123h1v1h-1zM434 123h1v1h-1zM437 123h1v1h-1zM440 123h1v1h-1zM443 123h1v1h-1zM445 123h1v1h-1zM448 123h1v1h-1zM451 123h1v1h-1zM454 123h1v1h-1zM456 123h1v1h-1zM459 123h1v1h-1zM462 123h1v1h-1zM465 123h1v1h-1zM467 123h1v1h-1zM470 123h1v1h-1zM473 123h1v1h-1zM476 123h1v1h-1zM478 123h1v1h-1zM481 123h1v1h-1zM484 123h1v1h-1zM487 123h1v1h-1zM489 123h1v1h-1zM492 123h1v1h-1zM34 142h1v1h-1zM37 142h1v1h-1zM39 142h1v1h-1zM42 142h1v1h-1zM45 142h1v1h-1zM48 142h1v1h-1zM50 142h1v1h-1zM53 142h1v1h-1zM56 142h1v1h-1zM59 142h1v1h-1zM61 142h1v1h-1zM64 142h1v1h-1zM67 142h1v1h-1zM70 142h1v1h-1zM72 142h1v1h-1zM75 142h1v1h-1zM78 142h1v1h-1zM81 142h1v1h-1zM83 142h1v1h-1zM86 142h1v1h-1zM89 142h1v1h-1zM92 142h1v1h-1zM94 142h1v1h-1zM97 142h1v1h-1zM100 142h1v1h-1zM103 142h1v1h-1zM105 142h1v1h-1zM108 142h1v1h-1zM111 142h1v1h-1zM114 142h1v1h-1zM116 142h1v1h-1zM119 142h1v1h-1zM122 142h1v1h-1zM125 142h1v1h-1zM127 142h1v1h-1zM130 142h1v1h-1zM133 142h1v1h-1zM135 142h1v1h-1zM138 142h1v1h-1zM141 142h1v1h-1zM144 142h1v1h-1zM146 142h1v1h-1zM149 142h1v1h-1zM152 142h1v1h-1zM155 142h1v1h-1zM157 142h1v1h-1zM160 142h1v1h-1zM163 142h1v1h-1zM166 142h1v1h-1zM168 142h1v1h-1zM171 142h1v1h-1zM174 142h1v1h-1zM177 142h1v1h-1zM179 142h1v1h-1zM182 142h1v1h-1zM185 142h1v1h-1zM188 142h1v1h-1zM190 142h1v1h-1zM193 142h1v1h-1zM196 142h1v1h-1zM199 142h1v1h-1zM201 142h1v1h-1zM204 142h1v1h-1zM207 142h1v1h-1zM210 142h1v1h-1zM212 142h1v1h-1zM215 142h1v1h-1zM218 142h1v1h-1zM221 142h1v1h-1zM223 142h1v1h-1zM226 142h1v1h-1zM229 142h1v1h-1zM231 142h1v1h-1zM234 142h1v1h-1zM237 142h1v1h-1zM240 142h1v1h-1zM242 142h1v1h-1zM245 142h1v1h-1zM248 142h1v1h-1zM251 142h1v1h-1zM253 142h1v1h-1zM256 142h1v1h-1zM259 142h1v1h-1zM262 142h1v1h-1zM264 142h1v1h-1zM267 142h1v1h-1zM270 142h1v1h-1zM273 142h1v1h-1zM275 142h1v1h-1zM278 142h1v1h-1zM281 142h1v1h-1zM284 142h1v1h-1zM286 142h1v1h-1zM289 142h1v1h-1zM292 142h1v1h-1zM295 142h1v1h-1zM297 142h1v1h-1zM300 142h1v1h-1zM303 142h1v1h-1zM306 142h1v1h-1zM308 142h1v1h-1zM311 142h1v1h-1zM314 142h1v1h-1zM317 142h1v1h-1zM319 142h1v1h-1zM322 142h1v1h-1zM325 142h1v1h-1zM327 142h1v1h-1zM330 142h1v1h-1zM333 142h1v1h-1zM336 142h1v1h-1zM338 142h1v1h-1zM341 142h1v1h-1zM344 142h1v1h-1zM347 142h1v1h-1zM349 142h1v1h-1zM352 142h1v1h-1zM355 142h1v1h-1zM358 142h1v1h-1zM360 142h1v1h-1zM363 142h1v1h-1zM366 142h1v1h-1zM369 142h1v1h-1zM371 142h1v1h-1zM374 142h1v1h-1zM377 142h1v1h-1zM380 142h1v1h-1zM382 142h1v1h-1zM385 142h1v1h-1zM388 142h1v1h-1zM391 142h1v1h-1zM393 142h1v1h-1zM396 142h1v1h-1zM399 142h1v1h-1zM402 142h1v1h-1zM404 142h1v1h-1zM407 142h1v1h-1zM410 142h1v1h-1zM413 142h1v1h-1zM415 142h1v1h-1zM418 142h1v1h-1zM421 142h1v1h-1zM423 142h1v1h-1zM426 142h1v1h-1zM429 142h1v1h-1zM432 142h1v1h-1zM434 142h1v1h-1zM437 142h1v1h-1zM440 142h1v1h-1zM443 142h1v1h-1zM445 142h1v1h-1zM448 142h1v1h-1zM451 142h1v1h-1zM454 142h1v1h-1zM456 142h1v1h-1zM459 142h1v1h-1zM462 142h1v1h-1zM465 142h1v1h-1zM467 142h1v1h-1zM470 142h1v1h-1zM473 142h1v1h-1zM476 142h1v1h-1zM478 142h1v1h-1zM481 142h1v1h-1zM484 142h1v1h-1zM487 142h1v1h-1zM489 142h1v1h-1zM492 142h1v1h-1zM34 160h1v1h-1zM37 160h1v1h-1zM39 160h1v1h-1zM42 160h1v1h-1zM45 160h1v1h-1zM48 160h1v1h-1zM50 160h1v1h-1zM53 160h1v1h-1zM56 160h1v1h-1zM59 160h1v1h-1zM61 160h1v1h-1zM64 160h1v1h-1zM67 160h1v1h-1zM70 160h1v1h-1zM72 160h1v1h-1zM75 160h1v1h-1zM78 160h1v1h-1zM81 160h1v1h-1zM83 160h1v1h-1zM86 160h1v1h-1zM89 160h1v1h-1zM92 160h1v1h-1zM94 160h1v1h-1zM97 160h1v1h-1zM100 160h1v1h-1zM103 160h1v1h-1zM105 160h1v1h-1zM108 160h1v1h-1zM111 160h1v1h-1zM114 160h1v1h-1zM116 160h1v1h-1zM119 160h1v1h-1zM122 160h1v1h-1zM125 160h1v1h-1zM127 160h1v1h-1zM130 160h1v1h-1zM133 160h1v1h-1zM135 160h1v1h-1zM138 160h1v1h-1zM141 160h1v1h-1zM144 160h1v1h-1zM146 160h1v1h-1zM149 160h1v1h-1zM152 160h1v1h-1zM155 160h1v1h-1zM157 160h1v1h-1zM160 160h1v1h-1zM163 160h1v1h-1zM166 160h1v1h-1zM168 160h1v1h-1zM171 160h1v1h-1zM174 160h1v1h-1zM177 160h1v1h-1zM179 160h1v1h-1zM182 160h1v1h-1zM185 160h1v1h-1zM188 160h1v1h-1zM190 160h1v1h-1zM193 160h1v1h-1zM196 160h1v1h-1zM199 160h1v1h-1zM201 160h1v1h-1zM204 160h1v1h-1zM207 160h1v1h-1zM210 160h1v1h-1zM212 160h1v1h-1zM215 160h1v1h-1zM218 160h1v1h-1zM221 160h1v1h-1zM223 160h1v1h-1zM226 160h1v1h-1zM229 160h1v1h-1zM231 160h1v1h-1zM234 160h1v1h-1zM237 160h1v1h-1zM240 160h1v1h-1zM242 160h1v1h-1zM245 160h1v1h-1zM248 160h1v1h-1zM251 160h1v1h-1zM253 160h1v1h-1zM256 160h1v1h-1zM259 160h1v1h-1zM262 160h1v1h-1zM264 160h1v1h-1zM267 160h1v1h-1zM270 160h1v1h-1zM273 160h1v1h-1zM275 160h1v1h-1zM278 160h1v1h-1zM281 160h1v1h-1zM284 160h1v1h-1zM286 160h1v1h-1zM289 160h1v1h-1zM292 160h1v1h-1zM295 160h1v1h-1zM297 160h1v1h-1zM300 160h1v1h-1zM303 160h1v1h-1zM306 160h1v1h-1zM308 160h1v1h-1zM311 160h1v1h-1zM314 160h1v1h-1zM317 160h1v1h-1zM319 160h1v1h-1zM322 160h1v1h-1zM325 160h1v1h-1zM327 160h1v1h-1zM330 160h1v1h-1zM333 160h1v1h-1zM336 160h1v1h-1zM338 160h1v1h-1zM341 160h1v1h-1zM344 160h1v1h-1zM347 160h1v1h-1zM349 160h1v1h-1zM352 160h1v1h-1zM355 160h1v1h-1zM358 160h1v1h-1zM360 160h1v1h-1zM363 160h1v1h-1zM366 160h1v1h-1zM369 160h1v1h-1zM371 160h1v1h-1zM374 160h1v1h-1zM377 160h1v1h-1zM380 160h1v1h-1zM382 160h1v1h-1zM385 160h1v1h-1zM388 160h1v1h-1zM391 160h1v1h-1zM393 160h1v1h-1zM396 160h1v1h-1zM399 160h1v1h-1zM402 160h1v1h-1zM404 160h1v1h-1zM407 160h1v1h-1zM410 160h1v1h-1zM413 160h1v1h-1zM415 160h1v1h-1zM418 160h1v1h-1zM421 160h1v1h-1zM423 160h1v1h-1zM426 160h1v1h-1zM429 160h1v1h-1zM432 160h1v1h-1zM434 160h1v1h-1zM437 160h1v1h-1zM440 160h1v1h-1zM443 160h1v1h-1zM445 160h1v1h-1zM448 160h1v1h-1zM451 160h1v1h-1zM454 160h1v1h-1zM456 160h1v1h-1zM459 160h1v1h-1zM462 160h1v1h-1zM465 160h1v1h-1zM467 160h1v1h-1zM470 160h1v1h-1zM473 160h1v1h-1zM476 160h1v1h-1zM478 160h1v1h-1zM481 160h1v1h-1zM484 160h1v1h-1zM487 160h1v1h-1zM489 160h1v1h-1zM492 160h1v1h-1zM34 178h1v1h-1zM37 178h1v1h-1zM39 178h1v1h-1zM42 178h1v1h-1zM45 178h1v1h-1zM48 178h1v1h-1zM50 178h1v1h-1zM53 178h1v1h-1zM56 178h1v1h-1zM59 178h1v1h-1zM61 178h1v1h-1zM64 178h1v1h-1zM67 178h1v1h-1zM70 178h1v1h-1zM72 178h1v1h-1zM75 178h1v1h-1zM78 178h1v1h-1zM81 178h1v1h-1zM83 178h1v1h-1zM86 178h1v1h-1zM89 178h1v1h-1zM92 178h1v1h-1zM94 178h1v1h-1zM97 178h1v1h-1zM100 178h1v1h-1zM103 178h1v1h-1zM105 178h1v1h-1zM108 178h1v1h-1zM111 178h1v1h-1zM114 178h1v1h-1zM116 178h1v1h-1zM119 178h1v1h-1zM122 178h1v1h-1zM125 178h1v1h-1zM127 178h1v1h-1zM130 178h1v1h-1zM133 178h1v1h-1zM135 178h1v1h-1zM138 178h1v1h-1zM141 178h1v1h-1zM144 178h1v1h-1zM146 178h1v1h-1zM149 178h1v1h-1zM152 178h1v1h-1zM155 178h1v1h-1zM157 178h1v1h-1zM160 178h1v1h-1zM163 178h1v1h-1zM166 178h1v1h-1zM168 178h1v1h-1zM171 178h1v1h-1zM174 178h1v1h-1zM177 178h1v1h-1zM179 178h1v1h-1zM182 178h1v1h-1zM185 178h1v1h-1zM188 178h1v1h-1zM190 178h1v1h-1zM193 178h1v1h-1zM196 178h1v1h-1zM199 178h1v1h-1zM201 178h1v1h-1zM204 178h1v1h-1zM207 178h1v1h-1zM210 178h1v1h-1zM212 178h1v1h-1zM215 178h1v1h-1zM218 178h1v1h-1zM221 178h1v1h-1zM223 178h1v1h-1zM226 178h1v1h-1zM229 178h1v1h-1zM231 178h1v1h-1zM234 178h1v1h-1zM237 178h1v1h-1zM240 178h1v1h-1zM242 178h1v1h-1zM245 178h1v1h-1zM248 178h1v1h-1zM251 178h1v1h-1zM253 178h1v1h-1zM256 178h1v1h-1zM259 178h1v1h-1zM262 178h1v1h-1zM264 178h1v1h-1zM267 178h1v1h-1zM270 178h1v1h-1zM273 178h1v1h-1zM275 178h1v1h-1zM278 178h1v1h-1zM281 178h1v1h-1zM284 178h1v1h-1zM286 178h1v1h-1zM289 178h1v1h-1zM292 178h1v1h-1zM295 178h1v1h-1zM297 178h1v1h-1zM300 178h1v1h-1zM303 178h1v1h-1zM306 178h1v1h-1zM308 178h1v1h-1zM311 178h1v1h-1zM314 178h1v1h-1zM317 178h1v1h-1zM319 178h1v1h-1zM322 178h1v1h-1zM325 178h1v1h-1zM327 178h1v1h-1zM330 178h1v1h-1zM333 178h1v1h-1zM336 178h1v1h-1zM338 178h1v1h-1zM341 178h1v1h-1zM344 178h1v1h-1zM347 178h1v1h-1zM349 178h1v1h-1zM352 178h1v1h-1zM355 178h1v1h-1zM358 178h1v1h-1zM360 178h1v1h-1zM363 178h1v1h-1zM366 178h1v1h-1zM369 178h1v1h-1zM371 178h1v1h-1zM374 178h1v1h-1zM377 178h1v1h-1zM380 178h1v1h-1zM382 178h1v1h-1zM385 178h1v1h-1zM388 178h1v1h-1zM391 178h1v1h-1zM393 178h1v1h-1zM396 178h1v1h-1zM399 178h1v1h-1zM402 178h1v1h-1zM404 178h1v1h-1zM407 178h1v1h-1zM410 178h1v1h-1zM413 178h1v1h-1zM415 178h1v1h-1zM418 178h1v1h-1zM421 178h1v1h-1zM423 178h1v1h-1zM426 178h1v1h-1zM429 178h1v1h-1zM432 178h1v1h-1zM434 178h1v1h-1zM437 178h1v1h-1zM440 178h1v1h-1zM443 178h1v1h-1zM445 178h1v1h-1zM448 178h1v1h-1zM451 178h1v1h-1zM454 178h1v1h-1zM456 178h1v1h-1zM459 178h1v1h-1zM462 178h1v1h-1zM465 178h1v1h-1zM467 178h1v1h-1zM470 178h1v1h-1zM473 178h1v1h-1zM476 178h1v1h-1zM478 178h1v1h-1zM481 178h1v1h-1zM484 178h1v1h-1zM487 178h1v1h-1zM489 178h1v1h-1zM492 178h1v1h-1zM34 196h1v1h-1zM37 196h1v1h-1zM39 196h1v1h-1zM42 196h1v1h-1zM45 196h1v1h-1zM48 196h1v1h-1zM50 196h1v1h-1zM53 196h1v1h-1zM56 196h1v1h-1zM59 196h1v1h-1zM61 196h1v1h-1zM64 196h1v1h-1zM67 196h1v1h-1zM70 196h1v1h-1zM72 196h1v1h-1zM75 196h1v1h-1zM78 196h1v1h-1zM81 196h1v1h-1zM83 196h1v1h-1zM86 196h1v1h-1zM89 196h1v1h-1zM92 196h1v1h-1zM94 196h1v1h-1zM97 196h1v1h-1zM100 196h1v1h-1zM103 196h1v1h-1zM105 196h1v1h-1zM108 196h1v1h-1zM111 196h1v1h-1zM114 196h1v1h-1zM116 196h1v1h-1zM119 196h1v1h-1zM122 196h1v1h-1zM125 196h1v1h-1zM127 196h1v1h-1zM130 196h1v1h-1zM133 196h1v1h-1zM135 196h1v1h-1zM138 196h1v1h-1zM141 196h1v1h-1zM144 196h1v1h-1zM146 196h1v1h-1zM149 196h1v1h-1zM152 196h1v1h-1zM155 196h1v1h-1zM157 196h1v1h-1zM160 196h1v1h-1zM163 196h1v1h-1zM166 196h1v1h-1zM168 196h1v1h-1zM171 196h1v1h-1zM174 196h1v1h-1zM177 196h1v1h-1zM179 196h1v1h-1zM182 196h1v1h-1zM185 196h1v1h-1zM188 196h1v1h-1zM190 196h1v1h-1zM193 196h1v1h-1zM196 196h1v1h-1zM199 196h1v1h-1zM201 196h1v1h-1zM204 196h1v1h-1zM207 196h1v1h-1zM210 196h1v1h-1zM212 196h1v1h-1zM215 196h1v1h-1zM218 196h1v1h-1zM221 196h1v1h-1zM223 196h1v1h-1zM226 196h1v1h-1zM229 196h1v1h-1zM231 196h1v1h-1zM234 196h1v1h-1zM237 196h1v1h-1zM240 196h1v1h-1zM242 196h1v1h-1zM245 196h1v1h-1zM248 196h1v1h-1zM251 196h1v1h-1zM253 196h1v1h-1zM256 196h1v1h-1zM259 196h1v1h-1zM262 196h1v1h-1zM264 196h1v1h-1zM267 196h1v1h-1zM270 196h1v1h-1zM273 196h1v1h-1zM275 196h1v1h-1zM278 196h1v1h-1zM281 196h1v1h-1zM284 196h1v1h-1zM286 196h1v1h-1zM289 196h1v1h-1zM292 196h1v1h-1zM295 196h1v1h-1zM297 196h1v1h-1zM300 196h1v1h-1zM303 196h1v1h-1zM306 196h1v1h-1zM308 196h1v1h-1zM311 196h1v1h-1zM314 196h1v1h-1zM317 196h1v1h-1zM319 196h1v1h-1zM322 196h1v1h-1zM325 196h1v1h-1zM327 196h1v1h-1zM330 196h1v1h-1zM333 196h1v1h-1zM336 196h1v1h-1zM338 196h1v1h-1zM341 196h1v1h-1zM344 196h1v1h-1zM347 196h1v1h-1zM349 196h1v1h-1zM352 196h1v1h-1zM355 196h1v1h-1zM358 196h1v1h-1zM360 196h1v1h-1zM363 196h1v1h-1zM366 196h1v1h-1zM369 196h1v1h-1zM371 196h1v1h-1zM374 196h1v1h-1zM377 196h1v1h-1zM380 196h1v1h-1zM382 196h1v1h-1zM385 196h1v1h-1zM388 196h1v1h-1zM391 196h1v1h-1zM393 196h1v1h-1zM396 196h1v1h-1zM399 196h1v1h-1zM402 196h1v1h-1zM404 196h1v1h-1zM407 196h1v1h-1zM410 196h1v1h-1zM413 196h1v1h-1zM415 196h1v1h-1zM418 196h1v1h-1zM421 196h1v1h-1zM423 196h1v1h-1zM426 196h1v1h-1zM429 196h1v1h-1zM432 196h1v1h-1zM434 196h1v1h-1zM437 196h1v1h-1zM440 196h1v1h-1zM443 196h1v1h-1zM445 196h1v1h-1zM448 196h1v1h-1zM451 196h1v1h-1zM454 196h1v1h-1zM456 196h1v1h-1zM459 196h1v1h-1zM462 196h1v1h-1zM465 196h1v1h-1zM467 196h1v1h-1zM470 196h1v1h-1zM473 196h1v1h-1zM476 196h1v1h-1zM478 196h1v1h-1zM481 196h1v1h-1zM484 196h1v1h-1zM487 196h1v1h-1zM489 196h1v1h-1zM492 196h1v1h-1zM34 214h1v1h-1zM37 214h1v1h-1zM39 214h1v1h-1zM42 214h1v1h-1zM45 214h1v1h-1zM48 214h1v1h-1zM50 214h1v1h-1zM53 214h1v1h-1zM56 214h1v1h-1zM59 214h1v1h-1zM61 214h1v1h-1zM64 214h1v1h-1zM67 214h1v1h-1zM70 214h1v1h-1zM72 214h1v1h-1zM75 214h1v1h-1zM78 214h1v1h-1zM81 214h1v1h-1zM83 214h1v1h-1zM86 214h1v1h-1zM89 214h1v1h-1zM92 214h1v1h-1zM94 214h1v1h-1zM97 214h1v1h-1zM100 214h1v1h-1zM103 214h1v1h-1zM105 214h1v1h-1zM108 214h1v1h-1zM111 214h1v1h-1zM114 214h1v1h-1zM116 214h1v1h-1zM119 214h1v1h-1zM122 214h1v1h-1zM125 214h1v1h-1zM127 214h1v1h-1zM130 214h1v1h-1zM133 214h1v1h-1zM135 214h1v1h-1zM138 214h1v1h-1zM141 214h1v1h-1zM144 214h1v1h-1zM146 214h1v1h-1zM149 214h1v1h-1zM152 214h1v1h-1zM155 214h1v1h-1zM157 214h1v1h-1zM160 214h1v1h-1zM163 214h1v1h-1zM166 214h1v1h-1zM168 214h1v1h-1zM171 214h1v1h-1zM174 214h1v1h-1zM177 214h1v1h-1zM179 214h1v1h-1zM182 214h1v1h-1zM185 214h1v1h-1zM188 214h1v1h-1zM190 214h1v1h-1zM193 214h1v1h-1zM196 214h1v1h-1zM199 214h1v1h-1zM201 214h1v1h-1zM204 214h1v1h-1zM207 214h1v1h-1zM210 214h1v1h-1zM212 214h1v1h-1zM215 214h1v1h-1zM218 214h1v1h-1zM221 214h1v1h-1zM223 214h1v1h-1zM226 214h1v1h-1zM229 214h1v1h-1zM231 214h1v1h-1zM234 214h1v1h-1zM237 214h1v1h-1zM240 214h1v1h-1zM242 214h1v1h-1zM245 214h1v1h-1zM248 214h1v1h-1zM251 214h1v1h-1zM253 214h1v1h-1zM256 214h1v1h-1zM259 214h1v1h-1zM262 214h1v1h-1zM264 214h1v1h-1zM267 214h1v1h-1zM270 214h1v1h-1zM273 214h1v1h-1zM275 214h1v1h-1zM278 214h1v1h-1zM281 214h1v1h-1zM284 214h1v1h-1zM286 214h1v1h-1zM289 214h1v1h-1zM292 214h1v1h-1zM295 214h1v1h-1zM297 214h1v1h-1zM300 214h1v1h-1zM303 214h1v1h-1zM306 214h1v1h-1zM308 214h1v1h-1zM311 214h1v1h-1zM314 214h1v1h-1zM317 214h1v1h-1zM319 214h1v1h-1zM322 214h1v1h-1zM325 214h1v1h-1zM327 214h1v1h-1zM330 214h1v1h-1zM333 214h1v1h-1zM336 214h1v1h-1zM338 214h1v1h-1zM341 214h1v1h-1zM344 214h1v1h-1zM347 214h1v1h-1zM349 214h1v1h-1zM352 214h1v1h-1zM355 214h1v1h-1zM358 214h1v1h-1zM360 214h1v1h-1zM363 214h1v1h-1zM366 214h1v1h-1zM369 214h1v1h-1zM371 214h1v1h-1zM374 214h1v1h-1zM377 214h1v1h-1zM380 214h1v1h-1zM382 214h1v1h-1zM385 214h1v1h-1zM388 214h1v1h-1zM391 214h1v1h-1zM393 214h1v1h-1zM396 214h1v1h-1zM399 214h1v1h-1zM402 214h1v1h-1zM404 214h1v1h-1zM407 214h1v1h-1zM410 214h1v1h-1zM413 214h1v1h-1zM415 214h1v1h-1zM418 214h1v1h-1zM421 214h1v1h-1zM423 214h1v1h-1zM426 214h1v1h-1zM429 214h1v1h-1zM432 214h1v1h-1zM434 214h1v1h-1zM437 214h1v1h-1zM440 214h1v1h-1zM443 214h1v1h-1zM445 214h1v1h-1zM448 214h1v1h-1zM451 214h1v1h-1zM454 214h1v1h-1zM456 214h1v1h-1zM459 214h1v1h-1zM462 214h1v1h-1zM465 214h1v1h-1zM467 214h1v1h-1zM470 214h1v1h-1zM473 214h1v1h-1zM476 214h1v1h-1zM478 214h1v1h-1zM481 214h1v1h-1zM484 214h1v1h-1zM487 214h1v1h-1zM489 214h1v1h-1zM492 214h1v1h-1zM34 233h1v1h-1zM37 233h1v1h-1zM39 233h1v1h-1zM42 233h1v1h-1zM45 233h1v1h-1zM48 233h1v1h-1zM50 233h1v1h-1zM53 233h1v1h-1zM56 233h1v1h-1zM59 233h1v1h-1zM61 233h1v1h-1zM64 233h1v1h-1zM67 233h1v1h-1zM70 233h1v1h-1zM72 233h1v1h-1zM75 233h1v1h-1zM78 233h1v1h-1zM81 233h1v1h-1zM83 233h1v1h-1zM86 233h1v1h-1zM89 233h1v1h-1zM92 233h1v1h-1zM94 233h1v1h-1zM97 233h1v1h-1zM100 233h1v1h-1zM103 233h1v1h-1zM105 233h1v1h-1zM108 233h1v1h-1zM111 233h1v1h-1zM114 233h1v1h-1zM116 233h1v1h-1zM119 233h1v1h-1zM122 233h1v1h-1zM125 233h1v1h-1zM127 233h1v1h-1zM130 233h1v1h-1zM133 233h1v1h-1zM135 233h1v1h-1zM138 233h1v1h-1zM141 233h1v1h-1zM144 233h1v1h-1zM146 233h1v1h-1zM149 233h1v1h-1zM152 233h1v1h-1zM155 233h1v1h-1zM157 233h1v1h-1zM160 233h1v1h-1zM163 233h1v1h-1zM166 233h1v1h-1zM168 233h1v1h-1zM171 233h1v1h-1zM174 233h1v1h-1zM177 233h1v1h-1zM179 233h1v1h-1zM182 233h1v1h-1zM185 233h1v1h-1zM188 233h1v1h-1zM190 233h1v1h-1zM193 233h1v1h-1zM196 233h1v1h-1zM199 233h1v1h-1zM201 233h1v1h-1zM204 233h1v1h-1zM207 233h1v1h-1zM210 233h1v1h-1zM212 233h1v1h-1zM215 233h1v1h-1zM218 233h1v1h-1zM221 233h1v1h-1zM223 233h1v1h-1zM226 233h1v1h-1zM229 233h1v1h-1zM231 233h1v1h-1zM234 233h1v1h-1zM237 233h1v1h-1zM240 233h1v1h-1zM242 233h1v1h-1zM245 233h1v1h-1zM248 233h1v1h-1zM251 233h1v1h-1zM253 233h1v1h-1zM256 233h1v1h-1zM259 233h1v1h-1zM262 233h1v1h-1zM264 233h1v1h-1zM267 233h1v1h-1zM270 233h1v1h-1zM273 233h1v1h-1zM275 233h1v1h-1zM278 233h1v1h-1zM281 233h1v1h-1zM284 233h1v1h-1zM286 233h1v1h-1zM289 233h1v1h-1zM292 233h1v1h-1zM295 233h1v1h-1zM297 233h1v1h-1zM300 233h1v1h-1zM303 233h1v1h-1zM306 233h1v1h-1zM308 233h1v1h-1zM311 233h1v1h-1zM314 233h1v1h-1zM317 233h1v1h-1zM319 233h1v1h-1zM322 233h1v1h-1zM325 233h1v1h-1zM327 233h1v1h-1zM330 233h1v1h-1zM333 233h1v1h-1zM336 233h1v1h-1zM338 233h1v1h-1zM341 233h1v1h-1zM344 233h1v1h-1zM347 233h1v1h-1zM349 233h1v1h-1zM352 233h1v1h-1zM355 233h1v1h-1zM358 233h1v1h-1zM360 233h1v1h-1zM363 233h1v1h-1zM366 233h1v1h-1zM369 233h1v1h-1zM371 233h1v1h-1zM374 233h1v1h-1zM377 233h1v1h-1zM380 233h1v1h-1zM382 233h1v1h-1zM385 233h1v1h-1zM388 233h1v1h-1zM391 233h1v1h-1zM393 233h1v1h-1zM396 233h1v1h-1zM399 233h1v1h-1zM402 233h1v1h-1zM404 233h1v1h-1zM407 233h1v1h-1zM410 233h1v1h-1zM413 233h1v1h-1zM415 233h1v1h-1zM418 233h1v1h-1zM421 233h1v1h-1zM423 233h1v1h-1zM426 233h1v1h-1zM429 233h1v1h-1zM432 233h1v1h-1zM434 233h1v1h-1zM437 233h1v1h-1zM440 233h1v1h-1zM443 233h1v1h-1zM445 233h1v1h-1zM448 233h1v1h-1zM451 233h1v1h-1zM454 233h1v1h-1zM456 233h1v1h-1zM459 233h1v1h-1zM462 233h1v1h-1zM465 233h1v1h-1zM467 233h1v1h-1zM470 233h1v1h-1zM473 233h1v1h-1zM476 233h1v1h-1zM478 233h1v1h-1zM481 233h1v1h-1zM484 233h1v1h-1zM487 233h1v1h-1zM489 233h1v1h-1zM492 233h1v1h-1zM34 251h1v1h-1zM37 251h1v1h-1zM39 251h1v1h-1zM42 251h1v1h-1zM45 251h1v1h-1zM48 251h1v1h-1zM50 251h1v1h-1zM53 251h1v1h-1zM56 251h1v1h-1zM59 251h1v1h-1zM61 251h1v1h-1zM64 251h1v1h-1zM67 251h1v1h-1zM70 251h1v1h-1zM72 251h1v1h-1zM75 251h1v1h-1zM78 251h1v1h-1zM81 251h1v1h-1zM83 251h1v1h-1zM86 251h1v1h-1zM89 251h1v1h-1zM92 251h1v1h-1zM94 251h1v1h-1zM97 251h1v1h-1zM100 251h1v1h-1zM103 251h1v1h-1zM105 251h1v1h-1zM108 251h1v1h-1zM111 251h1v1h-1zM114 251h1v1h-1zM116 251h1v1h-1zM119 251h1v1h-1zM122 251h1v1h-1zM125 251h1v1h-1zM127 251h1v1h-1zM130 251h1v1h-1zM133 251h1v1h-1zM135 251h1v1h-1zM138 251h1v1h-1zM141 251h1v1h-1zM144 251h1v1h-1zM146 251h1v1h-1zM149 251h1v1h-1zM152 251h1v1h-1zM155 251h1v1h-1zM157 251h1v1h-1zM160 251h1v1h-1zM163 251h1v1h-1zM166 251h1v1h-1zM168 251h1v1h-1zM171 251h1v1h-1zM174 251h1v1h-1zM177 251h1v1h-1zM179 251h1v1h-1zM182 251h1v1h-1zM185 251h1v1h-1zM188 251h1v1h-1zM190 251h1v1h-1zM193 251h1v1h-1zM196 251h1v1h-1zM199 251h1v1h-1zM201 251h1v1h-1zM204 251h1v1h-1zM207 251h1v1h-1zM210 251h1v1h-1zM212 251h1v1h-1zM215 251h1v1h-1zM218 251h1v1h-1zM221 251h1v1h-1zM223 251h1v1h-1zM226 251h1v1h-1zM229 251h1v1h-1zM231 251h1v1h-1zM234 251h1v1h-1zM237 251h1v1h-1zM240 251h1v1h-1zM242 251h1v1h-1zM245 251h1v1h-1zM248 251h1v1h-1zM251 251h1v1h-1zM253 251h1v1h-1zM256 251h1v1h-1zM259 251h1v1h-1zM262 251h1v1h-1zM264 251h1v1h-1zM267 251h1v1h-1zM270 251h1v1h-1zM273 251h1v1h-1zM275 251h1v1h-1zM278 251h1v1h-1zM281 251h1v1h-1zM284 251h1v1h-1zM286 251h1v1h-1zM289 251h1v1h-1zM292 251h1v1h-1zM295 251h1v1h-1zM297 251h1v1h-1zM300 251h1v1h-1zM303 251h1v1h-1zM306 251h1v1h-1zM308 251h1v1h-1zM311 251h1v1h-1zM314 251h1v1h-1zM317 251h1v1h-1zM319 251h1v1h-1zM322 251h1v1h-1zM325 251h1v1h-1zM327 251h1v1h-1zM330 251h1v1h-1zM333 251h1v1h-1zM336 251h1v1h-1zM338 251h1v1h-1zM341 251h1v1h-1zM344 251h1v1h-1zM347 251h1v1h-1zM349 251h1v1h-1zM352 251h1v1h-1zM355 251h1v1h-1zM358 251h1v1h-1zM360 251h1v1h-1zM363 251h1v1h-1zM366 251h1v1h-1zM369 251h1v1h-1zM371 251h1v1h-1zM374 251h1v1h-1zM377 251h1v1h-1zM380 251h1v1h-1zM382 251h1v1h-1zM385 251h1v1h-1zM388 251h1v1h-1zM391 251h1v1h-1zM393 251h1v1h-1zM396 251h1v1h-1zM399 251h1v1h-1zM402 251h1v1h-1zM404 251h1v1h-1zM407 251h1v1h-1zM410 251h1v1h-1zM413 251h1v1h-1zM415 251h1v1h-1zM418 251h1v1h-1zM421 251h1v1h-1zM423 251h1v1h-1zM426 251h1v1h-1zM429 251h1v1h-1zM432 251h1v1h-1zM434 251h1v1h-1zM437 251h1v1h-1zM440 251h1v1h-1zM443 251h1v1h-1zM445 251h1v1h-1zM448 251h1v1h-1zM451 251h1v1h-1zM454 251h1v1h-1zM456 251h1v1h-1zM459 251h1v1h-1zM462 251h1v1h-1zM465 251h1v1h-1zM467 251h1v1h-1zM470 251h1v1h-1zM473 251h1v1h-1zM476 251h1v1h-1zM478 251h1v1h-1zM481 251h1v1h-1zM484 251h1v1h-1zM487 251h1v1h-1zM489 251h1v1h-1zM492 251h1v1h-1zM34 269h1v1h-1zM37 269h1v1h-1zM39 269h1v1h-1zM42 269h1v1h-1zM45 269h1v1h-1zM48 269h1v1h-1zM50 269h1v1h-1zM53 269h1v1h-1zM56 269h1v1h-1zM59 269h1v1h-1zM61 269h1v1h-1zM64 269h1v1h-1zM67 269h1v1h-1zM70 269h1v1h-1zM72 269h1v1h-1zM75 269h1v1h-1zM78 269h1v1h-1zM81 269h1v1h-1zM83 269h1v1h-1zM86 269h1v1h-1zM89 269h1v1h-1zM92 269h1v1h-1zM94 269h1v1h-1zM97 269h1v1h-1zM100 269h1v1h-1zM103 269h1v1h-1zM105 269h1v1h-1zM108 269h1v1h-1zM111 269h1v1h-1zM114 269h1v1h-1zM116 269h1v1h-1zM119 269h1v1h-1zM122 269h1v1h-1zM125 269h1v1h-1zM127 269h1v1h-1zM130 269h1v1h-1zM133 269h1v1h-1zM135 269h1v1h-1zM138 269h1v1h-1zM141 269h1v1h-1zM144 269h1v1h-1zM146 269h1v1h-1zM149 269h1v1h-1zM152 269h1v1h-1zM155 269h1v1h-1zM157 269h1v1h-1zM160 269h1v1h-1zM163 269h1v1h-1zM166 269h1v1h-1zM168 269h1v1h-1zM171 269h1v1h-1zM174 269h1v1h-1zM177 269h1v1h-1zM179 269h1v1h-1zM182 269h1v1h-1zM185 269h1v1h-1zM188 269h1v1h-1zM190 269h1v1h-1zM193 269h1v1h-1zM196 269h1v1h-1zM199 269h1v1h-1zM201 269h1v1h-1zM204 269h1v1h-1zM207 269h1v1h-1zM210 269h1v1h-1zM212 269h1v1h-1zM215 269h1v1h-1zM218 269h1v1h-1zM221 269h1v1h-1zM223 269h1v1h-1zM226 269h1v1h-1zM229 269h1v1h-1zM231 269h1v1h-1zM234 269h1v1h-1zM237 269h1v1h-1zM240 269h1v1h-1zM242 269h1v1h-1zM245 269h1v1h-1zM248 269h1v1h-1zM251 269h1v1h-1zM253 269h1v1h-1zM256 269h1v1h-1zM259 269h1v1h-1zM262 269h1v1h-1zM264 269h1v1h-1zM267 269h1v1h-1zM270 269h1v1h-1zM273 269h1v1h-1zM275 269h1v1h-1zM278 269h1v1h-1zM281 269h1v1h-1zM284 269h1v1h-1zM286 269h1v1h-1zM289 269h1v1h-1zM292 269h1v1h-1zM295 269h1v1h-1zM297 269h1v1h-1zM300 269h1v1h-1zM303 269h1v1h-1zM306 269h1v1h-1zM308 269h1v1h-1zM311 269h1v1h-1zM314 269h1v1h-1zM317 269h1v1h-1zM319 269h1v1h-1zM322 269h1v1h-1zM325 269h1v1h-1zM327 269h1v1h-1zM330 269h1v1h-1zM333 269h1v1h-1zM336 269h1v1h-1zM338 269h1v1h-1zM341 269h1v1h-1zM344 269h1v1h-1zM347 269h1v1h-1zM349 269h1v1h-1zM352 269h1v1h-1zM355 269h1v1h-1zM358 269h1v1h-1zM360 269h1v1h-1zM363 269h1v1h-1zM366 269h1v1h-1zM369 269h1v1h-1zM371 269h1v1h-1zM374 269h1v1h-1zM377 269h1v1h-1zM380 269h1v1h-1zM382 269h1v1h-1zM385 269h1v1h-1zM388 269h1v1h-1zM391 269h1v1h-1zM393 269h1v1h-1zM396 269h1v1h-1zM399 269h1v1h-1zM402 269h1v1h-1zM404 269h1v1h-1zM407 269h1v1h-1zM410 269h1v1h-1zM413 269h1v1h-1zM415 269h1v1h-1zM418 269h1v1h-1zM421 269h1v1h-1zM423 269h1v1h-1zM426 269h1v1h-1zM429 269h1v1h-1zM432 269h1v1h-1zM434 269h1v1h-1zM437 269h1v1h-1zM440 269h1v1h-1zM443 269h1v1h-1zM445 269h1v1h-1zM448 269h1v1h-1zM451 269h1v1h-1zM454 269h1v1h-1zM456 269h1v1h-1zM459 269h1v1h-1zM462 269h1v1h-1zM465 269h1v1h-1zM467 269h1v1h-1zM470 269h1v1h-1zM473 269h1v1h-1zM476 269h1v1h-1zM478 269h1v1h-1zM481 269h1v1h-1zM484 269h1v1h-1zM487 269h1v1h-1zM489 269h1v1h-1zM492 269h1v1h-1zM34 287h1v1h-1zM37 287h1v1h-1zM39 287h1v1h-1zM42 287h1v1h-1zM45 287h1v1h-1zM48 287h1v1h-1zM50 287h1v1h-1zM53 287h1v1h-1zM56 287h1v1h-1zM59 287h1v1h-1zM61 287h1v1h-1zM64 287h1v1h-1zM67 287h1v1h-1zM70 287h1v1h-1zM72 287h1v1h-1zM75 287h1v1h-1zM78 287h1v1h-1zM81 287h1v1h-1zM83 287h1v1h-1zM86 287h1v1h-1zM89 287h1v1h-1zM92 287h1v1h-1zM94 287h1v1h-1zM97 287h1v1h-1zM100 287h1v1h-1zM103 287h1v1h-1zM105 287h1v1h-1zM108 287h1v1h-1zM111 287h1v1h-1zM114 287h1v1h-1zM116 287h1v1h-1zM119 287h1v1h-1zM122 287h1v1h-1zM125 287h1v1h-1zM127 287h1v1h-1zM130 287h1v1h-1zM133 287h1v1h-1zM135 287h1v1h-1zM138 287h1v1h-1zM141 287h1v1h-1zM144 287h1v1h-1zM146 287h1v1h-1zM149 287h1v1h-1zM152 287h1v1h-1zM155 287h1v1h-1zM157 287h1v1h-1zM160 287h1v1h-1zM163 287h1v1h-1zM166 287h1v1h-1zM168 287h1v1h-1zM171 287h1v1h-1zM174 287h1v1h-1zM177 287h1v1h-1zM179 287h1v1h-1zM182 287h1v1h-1zM185 287h1v1h-1zM188 287h1v1h-1zM190 287h1v1h-1zM193 287h1v1h-1zM196 287h1v1h-1zM199 287h1v1h-1zM201 287h1v1h-1zM204 287h1v1h-1zM207 287h1v1h-1zM210 287h1v1h-1zM212 287h1v1h-1zM215 287h1v1h-1zM218 287h1v1h-1zM221 287h1v1h-1zM223 287h1v1h-1zM226 287h1v1h-1zM229 287h1v1h-1zM231 287h1v1h-1zM234 287h1v1h-1zM237 287h1v1h-1zM240 287h1v1h-1zM242 287h1v1h-1zM245 287h1v1h-1zM248 287h1v1h-1zM251 287h1v1h-1zM253 287h1v1h-1zM256 287h1v1h-1zM259 287h1v1h-1zM262 287h1v1h-1zM264 287h1v1h-1zM267 287h1v1h-1zM270 287h1v1h-1zM273 287h1v1h-1zM275 287h1v1h-1zM278 287h1v1h-1zM281 287h1v1h-1zM284 287h1v1h-1zM286 287h1v1h-1zM289 287h1v1h-1zM292 287h1v1h-1zM295 287h1v1h-1zM297 287h1v1h-1zM300 287h1v1h-1zM303 287h1v1h-1zM306 287h1v1h-1zM308 287h1v1h-1zM311 287h1v1h-1zM314 287h1v1h-1zM317 287h1v1h-1zM319 287h1v1h-1zM322 287h1v1h-1zM325 287h1v1h-1zM327 287h1v1h-1zM330 287h1v1h-1zM333 287h1v1h-1zM336 287h1v1h-1zM338 287h1v1h-1zM341 287h1v1h-1zM344 287h1v1h-1zM347 287h1v1h-1zM349 287h1v1h-1zM352 287h1v1h-1zM355 287h1v1h-1zM358 287h1v1h-1zM360 287h1v1h-1zM363 287h1v1h-1zM366 287h1v1h-1zM369 287h1v1h-1zM371 287h1v1h-1zM374 287h1v1h-1zM377 287h1v1h-1zM380 287h1v1h-1zM382 287h1v1h-1zM385 287h1v1h-1zM388 287h1v1h-1zM391 287h1v1h-1zM393 287h1v1h-1zM396 287h1v1h-1zM399 287h1v1h-1zM402 287h1v1h-1zM404 287h1v1h-1zM407 287h1v1h-1zM410 287h1v1h-1zM413 287h1v1h-1zM415 287h1v1h-1zM418 287h1v1h-1zM421 287h1v1h-1zM423 287h1v1h-1zM426 287h1v1h-1zM429 287h1v1h-1zM432 287h1v1h-1zM434 287h1v1h-1zM437 287h1v1h-1zM440 287h1v1h-1zM443 287h1v1h-1zM445 287h1v1h-1zM448 287h1v1h-1zM451 287h1v1h-1zM454 287h1v1h-1zM456 287h1v1h-1zM459 287h1v1h-1zM462 287h1v1h-1zM465 287h1v1h-1zM467 287h1v1h-1zM470 287h1v1h-1zM473 287h1v1h-1zM476 287h1v1h-1zM478 287h1v1h-1zM481 287h1v1h-1zM484 287h1v1h-1zM487 287h1v1h-1zM489 287h1v1h-1zM492 287h1v1h-1z" fill="#008000"/>
<text x="4.9" y="55.5" font-size="12" font-weight="bold" fill="#000" textLength="21.8" lengthAdjust="spacingAndGlyphs">410</text>
<text x="4.9" y="73.5" font-size="12" font-weight="bold" fill="#000" textLength="21.8" lengthAdjust="spacingAndGlyphs">400</text>
<text x="4.9" y="91.5" font-size="12" font-weight="bold" fill="#000" textLength="21.8" lengthAdjust="spacingAndGlyphs">390</text>
<text x="4.9" y="109.5" font-size="12" font-weight="bold" fill="#000" textLength="21.8" lengthAdjust="spacingAndGlyphs">380</text>
<text x="4.9" y="127.5" font-size="12" font-weight="bold" fill="#000" textLength="21.8" lengthAdjust="spacingAndGlyphs">370</text>
<text x="4.9" y="146.5" font-size="12" font-weight="bold" fill="#000" textLength="21.8" lengthAdjust="spacingAndGlyphs">360</text>
<text x="4.9" y="164.5" font-size="12" font-weight="bold" fill="#000" textLength="21.8" lengthAdjust="spacingAndGlyphs">350</text>
<text x="4.9" y="182.5" font-size="12" font-weight="bold" fill="#000" textLength="21.8" lengthAdjust="spacingAndGlyphs">340</text>
<text x="4.9" y="200.5" font-size="12" font-weight="bold" fill="#000" textLength="21.8" lengthAdjust="spacingAndGlyphs">330</text>
<text x="4.9" y="218.5" font-size="12" font-weight="bold" fill="#000" textLength="21.8" lengthAdjust="spacingAndGlyphs">320</text>
<text x="4.9" y="237.5" font-size="12" font-weight="bold" fill="#000" textLength="21.8" lengthAdjust="spacingAndGlyphs">310</text>
<text x="4.9" y="255.5" font-size="12" font-weight="bold" fill="#000" textLength="21.8" lengthAdjust="spacingAndGlyphs">300</text>
<text x="4.9" y="273.5" font-size="12" font-weight="bold" fill="#000" textLength="21.8" lengthAdjust="spacingAndGlyphs">290</text>
<text x="4.9" y="291.5" font-size="12" font-weight="bold" fill="#000" textLength="21.8" lengthAdjust="spacingAndGlyphs">280</text>
<rect x="31" y="131" width="504" height="1" fill="#0000ff"/>
<text x="543.4" y="135.8" font-size="12.5" font-weight="bold" fill="#000" textLength="111.7" lengthAdjust="spacingAndGlyphs">5% down from peak</text>
<rect x="38" y="89" width="40" height="1" fill="#000"/>
<rect x="77" y="90" width="81" height="1" fill="#000"/>
<rect x="157" y="91" width="81" height="1" fill="#000"/>
<rect x="237" y="92" width="81" height="1" fill="#000"/>
<rect x="317" y="93" width="81" height="1" fill="#000"/>
<rect x="397" y="94" width="38" height="1" fill="#000"/>
<polyline points="66.25,121.40 70.00,121.00 75.00,121.00 77.00,120.50 80.00,119.50 83.00,119.80 85.00,119.60 88.30,119.60 90.00,120.80 92.50,124.20 95.00,127.90 97.50,131.70 100.00,135.80 102.10,140.00 103.30,143.30 104.60,147.50 106.25,153.30 108.30,159.20 109.40,162.50 111.25,170.00 113.10,180.00 115.00,186.25 117.50,193.75 120.00,202.50 122.50,211.25 124.40,217.50 127.50,221.90 131.90,224.40 136.25,223.75 140.00,223.50 142.50,222.50 146.25,218.75 150.00,213.75 153.75,207.50 157.50,200.00 160.60,195.60 163.75,193.10 166.90,192.50 170.00,193.10 173.10,193.75 176.25,194.00 180.00,193.10 183.75,191.90 187.50,190.60 191.25,188.75 195.00,186.90 198.75,183.75 201.25,182.25 205.00,182.75 210.00,182.25 215.00,181.50 218.75,180.00 221.25,178.50 225.00,178.40 235.00,178.75 237.50,177.50 241.25,174.40 245.00,171.90 250.00,167.50 255.00,162.50 258.75,159.40 262.50,158.10 267.50,156.25 272.50,155.40 276.25,155.00 280.00,152.50 285.00,149.40 290.00,145.60 295.00,141.25 300.00,138.75 305.00,134.50 308.30,129.20 312.50,124.20 316.70,122.00 320.80,121.25 325.00,120.00 330.00,118.75 335.00,117.90 340.00,118.10 350.00,118.10 355.00,117.50 360.00,115.00 363.00,113.00 370.00,112.75 375.00,112.75 380.00,113.10 385.00,111.25 390.00,110.00 395.00,110.60 400.00,110.00 405.00,109.40 410.00,110.00 415.00,112.75 420.00,114.50 425.00,116.25 430.00,116.50 435.00,117.20 437.50,118.75 442.50,120.60 445.00,121.25 450.00,120.00 455.00,116.90 457.50,112.50 462.50,107.50 467.50,101.25 472.50,95.00 477.50,88.75 482.50,82.50 487.50,75.60 493.00,70.00" fill="none" stroke="#800000" stroke-width="1" shape-rendering="crispEdges"/>
<polyline points="145.00,167.75 150.00,168.50 154.40,169.75 158.10,172.50 162.50,175.00 167.50,177.25 171.90,180.00 176.25,182.75 181.25,185.60 186.25,188.10 191.25,189.40 195.00,191.25 200.00,194.40 205.00,196.90 210.00,198.10 215.00,199.00 220.00,198.70 222.00,198.00 225.00,196.30 230.00,193.40 235.00,188.75 240.00,185.60 245.00,182.50 250.00,181.25 255.00,179.40 260.00,177.50 265.00,175.60 270.00,174.40 275.00,172.50 280.00,170.60 285.00,168.10 290.00,165.60 295.00,161.90 300.00,159.40 305.00,157.25 310.00,155.00 315.00,153.10 320.00,150.90 325.00,148.10 330.00,144.40 335.00,141.25 340.00,138.10 345.00,136.90 350.00,135.00 355.00,132.50 360.00,130.00 365.00,128.10 370.00,125.60 375.00,124.00 380.00,123.10 385.00,121.25 390.00,118.75 395.00,117.25 400.00,115.60 405.00,113.75 410.00,113.75 415.00,114.00 420.00,114.75 425.00,114.75 430.00,114.40 435.00,114.00 440.00,113.75 445.00,113.75 450.00,113.75 455.00,113.50 460.00,111.90 465.00,110.00 470.00,108.10 475.00,106.25 480.00,104.40 485.00,102.50 490.00,100.60 493.50,99.75" fill="none" stroke="#000" stroke-width="2" stroke-linejoin="round" stroke-linecap="round" shape-rendering="crispEdges"/>
<ellipse cx="488.7" cy="60.25" rx="33.2" ry="16.5" fill="none" stroke="#108010" stroke-width="1.6"/>
<ellipse cx="488.4" cy="60.15" rx="32.1" ry="14.6" fill="none" stroke="#1a8cf0" stroke-width="2.5"/>
<path d="M111.5 294.5V281.5M107.5 286.5L111.5 281.5L115.5 286.5" fill="none" stroke="#ff0000" stroke-width="1.1"/>
<path d="M149.5 247.5V232.5M145.0 238.5L149.5 232.5L154.0 238.5" fill="none" stroke="#ff0000" stroke-width="1.1"/>
<path d="M204.5 134V149.5M200.0 143.5L204.5 149.5L209.0 143.5" fill="none" stroke="#ff0000" stroke-width="1.1"/>
<path d="M224.5 121V136.5M220.0 131.0L224.5 136.5L229.0 131.0" fill="none" stroke="#ff0000" stroke-width="1.1"/>
<path d="M226.5 121V136.5M222.0 131.0L226.5 136.5L231.0 131.0" fill="none" stroke="#ff0000" stroke-width="1.1"/>
<path d="M230.5 126V136.5M227.0 131.5L230.5 136.5L234.0 131.5" fill="none" stroke="#ff0000" stroke-width="1.1"/>
<path d="M250.5 211.5V196.5M245.5 203.5L250.5 196.5L255.5 203.5" fill="none" stroke="#ff0000" stroke-width="1.1"/>
<path d="M434.5 80V94.5M430.7 89.0L434.5 94.5L438.3 89.0" fill="none" stroke="#ff0000" stroke-width="1.1"/>
<path d="M476.5 137.5V124M472.7 130L476.5 124L480.3 130" fill="none" stroke="#ff0000" stroke-width="1.1"/>
<path d="M120.5 312.5V299.5M116.5 305.5L120.5 299.5L124.5 305.5" fill="none" stroke="#800080" stroke-width="1.1"/>
<path d="M277.5 216.5V203M273.5 208.5L277.5 203L281.5 208.5" fill="none" stroke="#800080" stroke-width="1.1"/>
<path d="M427.5 184.5V170.5M423.9 176.5L427.5 170.5L431.1 176.5" fill="none" stroke="#800080" stroke-width="1.1"/>
<path d="M105.5 114V121.5M103 118.5L105.5 121.5L108.5 118.5" fill="none" stroke="#000" stroke-width="1"/>
<path d="M196.5 120.5V129M193 125L196.5 129L199.5 125.5" fill="none" stroke="#000" stroke-width="1"/>
<text x="108.9" y="127" font-size="13" font-weight="bold" fill="#000" textLength="23.2" lengthAdjust="spacingAndGlyphs">S13</text>
<text x="114.5" y="299.6" font-size="13" font-weight="bold" fill="#000" textLength="26.8" lengthAdjust="spacingAndGlyphs">B16</text>
<text x="123.9" y="322.8" font-size="13" font-weight="bold" fill="#000" textLength="26.2" lengthAdjust="spacingAndGlyphs">B14</text>
<text x="157.9" y="249.7" font-size="13" font-weight="bold" fill="#000" textLength="26.2" lengthAdjust="spacingAndGlyphs">B12</text>
<text x="187.9" y="116.9" font-size="14" font-weight="normal" fill="#000" textLength="18.2" lengthAdjust="spacingAndGlyphs" stroke="#000" stroke-width="0.6">S3</text>
<text x="195.9" y="129.6" font-size="14" font-weight="normal" fill="#000" textLength="18.4" lengthAdjust="spacingAndGlyphs" stroke="#000" stroke-width="0.6">S9</text>
<text x="221.1" y="108" font-size="14" font-weight="normal" fill="#000" textLength="18.0" lengthAdjust="spacingAndGlyphs" stroke="#000" stroke-width="0.6">S8</text>
<text x="216.1" y="116.8" font-size="14" font-weight="normal" fill="#000" textLength="19.8" lengthAdjust="spacingAndGlyphs" stroke="#000" stroke-width="0.6">S9</text>
<path d="M226 106L232 103.5L235 104L235 112L232 113L229 110L226 109Z" fill="#000"/>
<text x="254.5" y="214.4" font-size="12" font-weight="bold" fill="#000" textLength="16.6" lengthAdjust="spacingAndGlyphs">B5</text>
<text x="281.6" y="225.6" font-size="13" font-weight="bold" fill="#000" textLength="27.0" lengthAdjust="spacingAndGlyphs">B14</text>
<text x="425.9" y="75.8" font-size="14" font-weight="normal" fill="#000" textLength="18.2" lengthAdjust="spacingAndGlyphs" stroke="#000" stroke-width="0.6">S9</text>
<text x="431.6" y="194.6" font-size="13" font-weight="bold" fill="#000" textLength="26.6" lengthAdjust="spacingAndGlyphs">B14</text>
<text x="480.9" y="154.6" font-size="13" font-weight="bold" fill="#000" textLength="26.5" lengthAdjust="spacingAndGlyphs">B13</text>
<path d="M70 373h1v1h-1zM72 371h1v1h-1zM74 369h1v1h-1zM76 367h1v1h-1zM77 366h1v1h-1zM79 364h1v1h-1zM81 362h1v1h-1zM83 360h1v1h-1zM85 358h1v1h-1zM87 357h1v1h-1zM88 357h1v1h-1zM90 356h1v1h-1zM92 356h1v1h-1zM94 357h1v1h-1zM96 357h1v1h-1zM98 358h1v1h-1zM99 359h1v1h-1zM101 360h1v1h-1zM103 363h1v1h-1zM105 367h1v1h-1zM107 371h1v1h-1zM109 376h1v1h-1zM110 379h1v1h-1zM112 384h1v1h-1zM114 389h1v1h-1zM116 393h1v1h-1zM118 397h1v1h-1zM120 402h1v1h-1zM121 404h1v1h-1zM123 407h1v1h-1zM125 410h1v1h-1zM127 410h1v1h-1zM129 411h1v1h-1zM131 412h1v1h-1zM132 412h1v1h-1zM134 413h1v1h-1zM136 414h1v1h-1zM138 414h1v1h-1zM140 414h1v1h-1zM142 414h1v1h-1zM143 413h1v1h-1zM145 411h1v1h-1zM147 408h1v1h-1zM149 405h1v1h-1zM151 402h1v1h-1zM153 400h1v1h-1zM154 398h1v1h-1zM156 396h1v1h-1zM158 394h1v1h-1zM160 393h1v1h-1zM162 391h1v1h-1zM164 391h1v1h-1zM165 390h1v1h-1zM167 390h1v1h-1zM169 389h1v1h-1zM171 388h1v1h-1zM173 388h1v1h-1zM175 387h1v1h-1zM176 386h1v1h-1zM178 383h1v1h-1zM180 380h1v1h-1zM182 379h1v1h-1zM184 378h1v1h-1zM186 377h1v1h-1zM187 376h1v1h-1zM189 375h1v1h-1zM191 374h1v1h-1zM193 373h1v1h-1zM195 372h1v1h-1zM197 371h1v1h-1zM198 370h1v1h-1zM200 369h1v1h-1zM202 369h1v1h-1zM204 369h1v1h-1zM206 369h1v1h-1zM208 369h1v1h-1zM209 369h1v1h-1zM211 368h1v1h-1zM213 368h1v1h-1zM215 368h1v1h-1zM217 367h1v1h-1zM219 367h1v1h-1zM220 367h1v1h-1zM222 366h1v1h-1zM224 366h1v1h-1zM226 366h1v1h-1zM228 366h1v1h-1zM230 367h1v1h-1zM231 367h1v1h-1zM233 368h1v1h-1zM235 367h1v1h-1zM237 367h1v1h-1zM239 367h1v1h-1zM241 367h1v1h-1zM242 367h1v1h-1zM244 367h1v1h-1zM246 368h1v1h-1zM248 368h1v1h-1zM250 368h1v1h-1zM252 368h1v1h-1zM253 369h1v1h-1zM255 369h1v1h-1zM257 370h1v1h-1zM259 370h1v1h-1zM261 371h1v1h-1zM263 372h1v1h-1zM264 373h1v1h-1zM266 374h1v1h-1zM268 374h1v1h-1zM270 375h1v1h-1zM272 375h1v1h-1zM274 376h1v1h-1zM275 376h1v1h-1zM277 376h1v1h-1zM279 376h1v1h-1zM281 376h1v1h-1zM283 375h1v1h-1zM285 374h1v1h-1zM286 373h1v1h-1zM288 372h1v1h-1zM290 371h1v1h-1zM292 370h1v1h-1zM294 369h1v1h-1zM296 368h1v1h-1zM297 368h1v1h-1zM299 367h1v1h-1zM301 367h1v1h-1zM303 366h1v1h-1zM305 365h1v1h-1zM307 364h1v1h-1zM308 363h1v1h-1zM310 362h1v1h-1zM312 362h1v1h-1zM314 361h1v1h-1zM316 361h1v1h-1zM318 360h1v1h-1zM319 360h1v1h-1zM321 360h1v1h-1zM323 359h1v1h-1zM325 359h1v1h-1zM327 357h1v1h-1zM329 356h1v1h-1zM330 355h1v1h-1zM332 354h1v1h-1zM334 353h1v1h-1zM336 353h1v1h-1zM338 353h1v1h-1zM340 352h1v1h-1zM341 352h1v1h-1zM343 352h1v1h-1zM345 351h1v1h-1zM347 351h1v1h-1zM349 351h1v1h-1zM351 350h1v1h-1zM352 350h1v1h-1zM354 350h1v1h-1zM356 350h1v1h-1zM358 349h1v1h-1zM360 348h1v1h-1zM362 348h1v1h-1zM363 348h1v1h-1zM365 348h1v1h-1zM367 350h1v1h-1zM369 352h1v1h-1zM371 352h1v1h-1zM373 353h1v1h-1zM374 353h1v1h-1zM376 354h1v1h-1zM378 355h1v1h-1zM380 355h1v1h-1zM382 356h1v1h-1zM384 357h1v1h-1zM385 357h1v1h-1zM387 358h1v1h-1zM389 358h1v1h-1zM391 359h1v1h-1zM393 359h1v1h-1zM395 360h1v1h-1zM396 360h1v1h-1zM398 360h1v1h-1zM400 360h1v1h-1zM402 360h1v1h-1zM404 359h1v1h-1zM406 357h1v1h-1zM407 357h1v1h-1zM409 355h1v1h-1zM411 355h1v1h-1zM413 354h1v1h-1zM415 354h1v1h-1zM417 354h1v1h-1zM418 354h1v1h-1zM420 353h1v1h-1zM422 353h1v1h-1zM424 353h1v1h-1zM426 353h1v1h-1zM428 353h1v1h-1zM429 353h1v1h-1zM431 353h1v1h-1zM433 354h1v1h-1zM435 355h1v1h-1zM437 356h1v1h-1zM439 357h1v1h-1zM440 358h1v1h-1zM442 360h1v1h-1zM444 362h1v1h-1zM446 363h1v1h-1zM448 364h1v1h-1zM450 364h1v1h-1zM451 363h1v1h-1zM453 362h1v1h-1zM455 361h1v1h-1zM457 359h1v1h-1zM459 356h1v1h-1zM461 354h1v1h-1zM462 353h1v1h-1zM464 351h1v1h-1zM466 349h1v1h-1zM468 346h1v1h-1zM470 343h1v1h-1zM472 340h1v1h-1zM473 338h1v1h-1zM475 335h1v1h-1zM477 332h1v1h-1zM479 328h1v1h-1zM481 325h1v1h-1zM483 323h1v1h-1zM484 322h1v1h-1zM486 320h1v1h-1zM488 318h1v1h-1zM490 316h1v1h-1zM492 314h1v1h-1z" fill="#ff0000"/>
<polyline points="34.40,377.50 36.25,369.40 37.50,373.75 39.40,384.40 41.90,376.25 43.10,381.90 45.60,375.60 48.75,391.25 52.50,373.75 54.40,380.60 56.90,372.50 58.75,380.00 60.60,370.00 65.60,350.00 69.40,366.25 73.10,350.00 78.75,324.40 82.50,343.10 87.50,360.00 89.40,370.00 91.25,377.50 92.50,372.50 96.25,393.75 98.10,384.40 100.00,393.75 102.50,401.25 105.60,425.00 106.90,435.00 107.50,437.50 109.40,430.00 111.25,438.10 113.10,430.00 114.40,437.50 116.90,427.50 118.75,435.00 123.10,407.50 126.25,396.25 129.40,383.75 131.25,398.75 133.10,391.25 136.25,406.25 138.75,397.50 142.50,413.75 146.90,385.00 149.40,370.60 153.75,383.75 155.60,377.50 160.60,399.40 165.00,378.75 166.25,373.75 168.10,380.60 169.40,375.00 171.90,383.10 173.75,376.25 175.60,383.10 180.00,362.50 182.50,373.10 186.25,357.50 189.40,371.90 193.50,353.10 195.60,359.40 197.50,355.60 202.50,382.50 206.25,365.60 209.40,381.25 213.75,368.10 215.60,376.25 220.60,350.00 221.90,356.25 224.40,365.00 226.25,358.10 228.10,364.40 231.25,378.10 233.75,368.75 237.50,357.25 240.00,363.75 242.50,376.90 244.40,371.25 246.25,385.00 248.10,376.25 250.00,384.40 253.10,368.75 255.60,378.75 257.50,372.50 259.40,381.25 261.25,375.00 263.10,378.75 265.00,373.75 268.10,388.10 270.00,382.50 272.50,387.50 275.00,376.25 279.40,360.60 281.25,368.10 284.40,357.50 286.25,362.50 290.60,349.40 295.60,366.25 297.50,360.60 299.40,367.50 301.25,362.50 305.60,374.40 310.60,355.60 312.50,361.90 314.40,354.40 315.60,358.10 317.50,353.10 319.40,360.00 322.50,351.25 328.50,328.75 331.25,335.00 334.40,342.50 337.50,355.00 341.50,371.25 345.00,360.00 347.50,352.50 348.75,356.25 350.60,350.60 352.50,360.00 355.60,346.25 358.10,336.90 359.40,343.75 361.50,332.50 364.40,340.00 367.50,351.25 370.60,366.25 374.40,356.90 380.00,381.90 383.75,370.60 385.60,375.00 390.60,360.60 392.50,365.00 398.10,342.50 400.60,334.40 402.50,339.40 405.60,325.60 409.25,340.00 411.50,348.25 412.60,360.25 414.50,351.25 416.00,356.50 417.50,365.50 420.50,378.25 423.50,364.00 425.40,371.50 429.50,357.25 433.25,371.50 436.60,359.10 442.60,375.60 444.90,362.50 449.40,347.10 450.90,350.90 456.25,326.25 458.10,320.60 460.00,328.75 462.50,322.50 464.40,329.40 466.90,320.60 468.75,310.60 471.25,301.50 473.75,308.75 476.25,320.00 478.10,307.50 480.25,302.50 484.40,312.50 487.50,307.50 489.40,310.60 491.25,307.50 493.75,311.90" fill="none" stroke="#0000ff" stroke-width="1" shape-rendering="crispEdges"/>
<text x="0.9" y="416.6" font-size="12.5" font-weight="bold" fill="#000" textLength="86.5" lengthAdjust="spacingAndGlyphs">OBV (blue line)</text>
<rect x="70" y="439" width="1" height="19" fill="#808000"/>
<rect x="105" y="439" width="1" height="19" fill="#808000"/>
<rect x="145" y="439" width="1" height="19" fill="#808000"/>
<rect x="184" y="439" width="1" height="19" fill="#808000"/>
<rect x="220" y="439" width="1" height="19" fill="#808000"/>
<rect x="262" y="439" width="1" height="19" fill="#808000"/>
<rect x="301" y="439" width="1" height="19" fill="#808000"/>
<rect x="339" y="439" width="1" height="19" fill="#808000"/>
<rect x="378" y="439" width="1" height="19" fill="#808000"/>
<rect x="418" y="439" width="1" height="19" fill="#808000"/>
<rect x="455" y="439" width="1" height="19" fill="#808000"/>
<text x="79.5" y="453.8" font-size="12" font-weight="bold" fill="#000" textLength="22.6" lengthAdjust="spacingAndGlyphs">Feb</text>
<text x="113.9" y="453.8" font-size="12" font-weight="bold" fill="#000" textLength="22.2" lengthAdjust="spacingAndGlyphs">Mar</text>
<text x="153.5" y="453.8" font-size="12" font-weight="bold" fill="#000" textLength="21.6" lengthAdjust="spacingAndGlyphs">Apr</text>
<text x="192.6" y="453.8" font-size="12" font-weight="bold" fill="#000" textLength="24.5" lengthAdjust="spacingAndGlyphs">May</text>
<text x="228.6" y="453.8" font-size="12" font-weight="bold" fill="#000" textLength="23.2" lengthAdjust="spacingAndGlyphs">Jun</text>
<text x="269.0" y="453.8" font-size="12" font-weight="bold" fill="#000" textLength="18.5" lengthAdjust="spacingAndGlyphs">Jul</text>
<text x="308.9" y="453.8" font-size="12" font-weight="bold" fill="#000" textLength="24.4" lengthAdjust="spacingAndGlyphs">Aug</text>
<text x="347.4" y="453.8" font-size="12" font-weight="bold" fill="#000" textLength="23.9" lengthAdjust="spacingAndGlyphs">Sep</text>
<text x="386.0" y="453.8" font-size="12" font-weight="bold" fill="#000" textLength="22.1" lengthAdjust="spacingAndGlyphs">Oct</text>
<text x="426.0" y="453.8" font-size="12" font-weight="bold" fill="#000" textLength="25.0" lengthAdjust="spacingAndGlyphs">Nov</text>
<text x="463.4" y="453.8" font-size="12" font-weight="bold" fill="#000" textLength="24.9" lengthAdjust="spacingAndGlyphs">Dec</text></svg>
</body></html>
